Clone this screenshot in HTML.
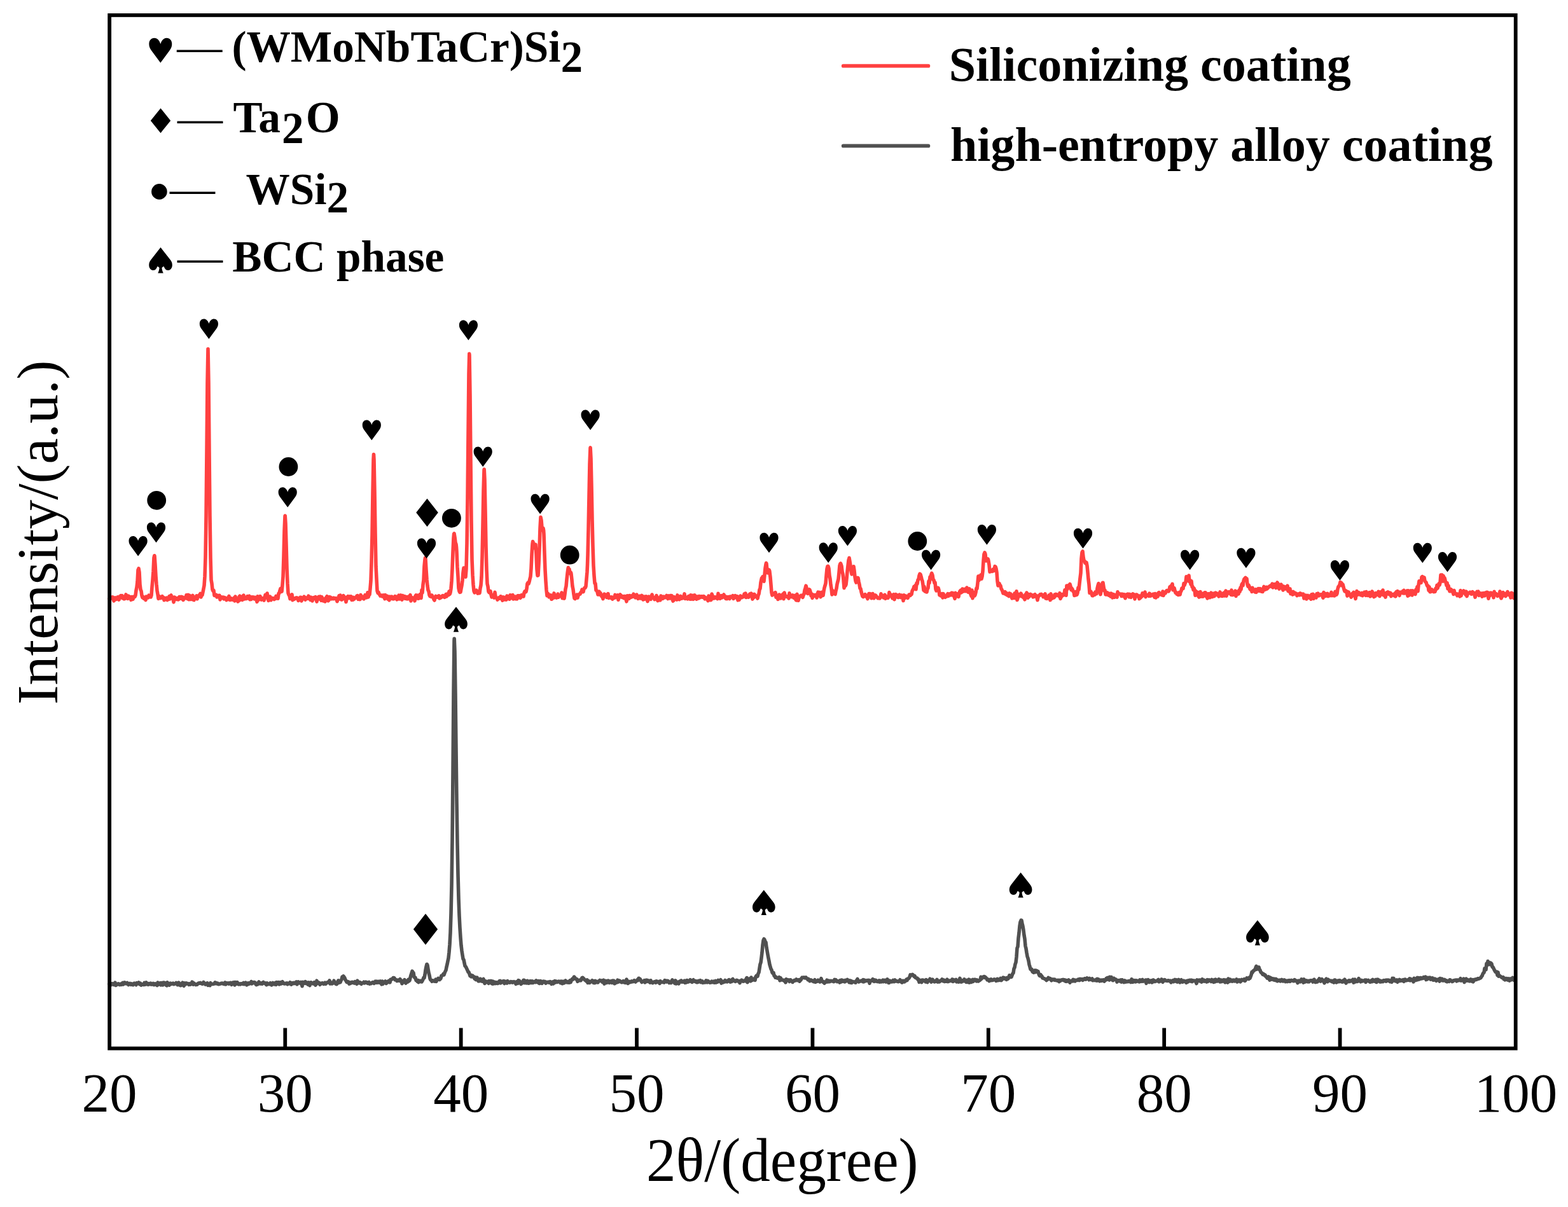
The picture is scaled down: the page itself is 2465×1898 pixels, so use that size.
<!DOCTYPE html>
<html><head><meta charset="utf-8"><title>XRD patterns</title>
<style>
html,body{margin:0;padding:0;background:#fff;}
svg{display:block;}
text{font-family:'Liberation Serif', 'Times New Roman', serif;fill:#000;}
</style></head>
<body>
<svg width="2465" height="1898" viewBox="0 0 2465 1898">
<rect x="0" y="0" width="2465" height="1898" fill="#fff"/>
<g fill="none" stroke-linejoin="round" stroke-linecap="round" stroke-width="5.6">
<path stroke="#505050" d="M172.0,1547.5 L173.0,1549.3 L174.0,1549.1 L175.0,1546.8 L176.0,1547.1 L177.0,1546.8 L178.0,1548.2 L179.0,1547.4 L180.0,1548.4 L181.0,1545.1 L182.0,1549.5 L183.0,1547.3 L184.0,1548.3 L185.0,1547.3 L186.0,1546.9 L187.0,1548.0 L188.0,1548.5 L189.0,1547.2 L190.0,1547.2 L191.0,1548.3 L192.0,1546.3 L193.0,1545.4 L194.0,1547.9 L195.0,1546.5 L196.0,1544.9 L197.0,1546.3 L198.0,1546.8 L199.0,1545.8 L200.0,1545.4 L201.0,1547.4 L202.0,1548.5 L203.0,1547.1 L204.0,1546.4 L205.0,1547.9 L206.0,1548.3 L207.0,1547.0 L208.0,1548.1 L209.0,1548.7 L210.0,1547.1 L211.0,1546.3 L212.0,1547.8 L213.0,1547.6 L214.0,1548.7 L215.0,1545.6 L216.0,1546.4 L217.0,1546.2 L218.0,1545.0 L219.0,1547.5 L220.0,1548.0 L221.0,1546.3 L222.0,1549.1 L223.0,1548.3 L224.0,1548.1 L225.0,1547.8 L226.0,1548.5 L227.0,1545.5 L228.0,1548.1 L229.0,1548.0 L230.0,1544.9 L231.0,1547.7 L232.0,1546.9 L233.0,1548.2 L234.0,1546.7 L235.0,1547.2 L236.0,1547.7 L237.0,1546.1 L238.0,1548.0 L239.0,1547.1 L240.0,1547.8 L241.0,1546.5 L242.0,1548.6 L243.0,1548.0 L244.0,1547.0 L245.0,1548.0 L246.0,1548.8 L247.0,1549.5 L248.0,1545.1 L249.0,1548.3 L250.0,1547.8 L251.0,1547.0 L252.0,1545.8 L253.0,1548.8 L254.0,1545.5 L255.0,1547.9 L256.0,1548.8 L257.0,1545.0 L258.0,1546.7 L259.0,1545.4 L260.0,1547.4 L261.0,1549.1 L262.0,1549.7 L263.0,1544.8 L264.0,1546.3 L265.0,1548.0 L266.0,1549.1 L267.0,1547.6 L268.0,1546.1 L269.0,1547.5 L270.0,1547.0 L271.0,1546.8 L272.0,1546.1 L273.0,1547.6 L274.0,1547.5 L275.0,1546.9 L276.0,1546.8 L277.0,1545.4 L278.0,1546.4 L279.0,1548.6 L280.0,1546.8 L281.0,1545.2 L282.0,1548.8 L283.0,1547.7 L284.0,1549.7 L285.0,1547.1 L286.0,1546.4 L287.0,1545.1 L288.0,1548.7 L289.0,1550.3 L290.0,1545.9 L291.0,1546.1 L292.0,1547.7 L293.0,1545.9 L294.0,1546.6 L295.0,1546.5 L296.0,1547.2 L297.0,1548.4 L298.0,1547.0 L299.0,1548.1 L300.0,1546.4 L301.0,1547.4 L302.0,1544.2 L303.0,1545.0 L304.0,1548.0 L305.0,1546.1 L306.0,1547.7 L307.0,1547.6 L308.0,1548.6 L309.0,1548.0 L310.0,1548.2 L311.0,1546.7 L312.0,1546.0 L313.0,1545.9 L314.0,1546.2 L315.0,1545.4 L316.0,1546.2 L317.0,1546.7 L318.0,1547.2 L319.0,1546.4 L320.0,1544.4 L321.0,1546.8 L322.0,1547.1 L323.0,1548.2 L324.0,1547.6 L325.0,1546.0 L326.0,1545.9 L327.0,1549.4 L328.0,1547.8 L329.0,1549.2 L330.0,1549.6 L331.0,1545.7 L332.0,1547.3 L333.0,1547.4 L334.0,1547.5 L335.0,1547.5 L336.0,1547.0 L337.0,1547.0 L338.0,1544.8 L339.0,1546.6 L340.0,1545.8 L341.0,1546.9 L342.0,1546.1 L343.0,1547.6 L344.0,1547.8 L345.0,1547.1 L346.0,1547.1 L347.0,1546.9 L348.0,1546.1 L349.0,1546.5 L350.0,1546.1 L351.0,1547.2 L352.0,1546.7 L353.0,1547.5 L354.0,1545.0 L355.0,1547.9 L356.0,1545.7 L357.0,1545.7 L358.0,1546.4 L359.0,1545.9 L360.0,1547.1 L361.0,1545.9 L362.0,1545.3 L363.0,1545.6 L364.0,1548.4 L365.0,1546.7 L366.0,1545.1 L367.0,1546.7 L368.0,1544.6 L369.0,1549.0 L370.0,1544.6 L371.0,1547.2 L372.0,1547.3 L373.0,1544.7 L374.0,1547.0 L375.0,1547.9 L376.0,1547.2 L377.0,1546.9 L378.0,1547.8 L379.0,1546.8 L380.0,1547.0 L381.0,1546.4 L382.0,1547.4 L383.0,1545.4 L384.0,1547.6 L385.0,1545.9 L386.0,1545.1 L387.0,1547.0 L388.0,1548.8 L389.0,1547.8 L390.0,1545.9 L391.0,1547.4 L392.0,1545.9 L393.0,1546.4 L394.0,1546.6 L395.0,1543.5 L396.0,1546.8 L397.0,1545.2 L398.0,1545.6 L399.0,1544.6 L400.0,1544.5 L401.0,1545.3 L402.0,1547.6 L403.0,1548.6 L404.0,1546.4 L405.0,1547.9 L406.0,1546.1 L407.0,1544.0 L408.0,1546.6 L409.0,1547.0 L410.0,1545.9 L411.0,1546.8 L412.0,1547.2 L413.0,1545.3 L414.0,1544.5 L415.0,1546.1 L416.0,1546.1 L417.0,1545.9 L418.0,1547.7 L419.0,1548.6 L420.0,1545.8 L421.0,1547.3 L422.0,1547.6 L423.0,1547.3 L424.0,1547.7 L425.0,1545.8 L426.0,1547.3 L427.0,1548.9 L428.0,1547.4 L429.0,1545.5 L430.0,1547.1 L431.0,1547.9 L432.0,1546.8 L433.0,1545.5 L434.0,1548.3 L435.0,1544.6 L436.0,1546.9 L437.0,1546.2 L438.0,1544.7 L439.0,1547.8 L440.0,1546.7 L441.0,1544.7 L442.0,1547.0 L443.0,1545.6 L444.0,1543.7 L445.0,1545.3 L446.0,1546.5 L447.0,1547.0 L448.0,1546.4 L449.0,1546.2 L450.0,1546.8 L451.0,1545.9 L452.0,1547.7 L453.0,1546.3 L454.0,1546.5 L455.0,1546.8 L456.0,1544.7 L457.0,1545.2 L458.0,1548.1 L459.0,1546.5 L460.0,1545.7 L461.0,1546.5 L462.0,1545.4 L463.0,1546.4 L464.0,1545.2 L465.0,1546.4 L466.0,1544.0 L467.0,1547.8 L468.0,1545.4 L469.0,1544.0 L470.0,1545.7 L471.0,1545.5 L472.0,1546.2 L473.0,1544.5 L474.0,1546.5 L475.0,1550.7 L476.0,1544.3 L477.0,1546.4 L478.0,1545.6 L479.0,1546.2 L480.0,1543.6 L481.0,1544.4 L482.0,1546.5 L483.0,1545.9 L484.0,1548.0 L485.0,1545.0 L486.0,1546.1 L487.0,1549.7 L488.0,1544.9 L489.0,1544.7 L490.0,1545.8 L491.0,1545.8 L492.0,1546.9 L493.0,1546.0 L494.0,1544.8 L495.0,1546.1 L496.0,1549.2 L497.0,1547.5 L498.0,1542.2 L499.0,1545.6 L500.0,1544.6 L501.0,1546.6 L502.0,1545.5 L503.0,1548.3 L504.0,1547.0 L505.0,1546.9 L506.0,1546.0 L507.0,1545.7 L508.0,1546.2 L509.0,1547.4 L510.0,1546.4 L511.0,1545.2 L512.0,1547.3 L513.0,1545.9 L514.0,1545.5 L515.0,1544.6 L516.0,1544.9 L517.0,1544.8 L518.0,1541.9 L519.0,1546.9 L520.0,1546.3 L521.0,1545.2 L522.0,1546.9 L523.0,1546.0 L524.0,1545.9 L525.0,1542.2 L526.0,1545.1 L527.0,1546.0 L528.0,1547.3 L529.0,1547.6 L530.0,1546.9 L531.0,1543.4 L532.0,1541.9 L533.0,1545.2 L534.0,1544.0 L535.0,1544.5 L536.0,1541.7 L537.0,1540.4 L538.0,1536.0 L539.0,1536.1 L539.9,1534.9 L540.0,1535.1 L541.0,1536.5 L542.0,1538.1 L543.0,1540.9 L544.0,1542.1 L545.0,1544.3 L546.0,1544.7 L547.0,1543.7 L548.0,1543.9 L549.0,1547.1 L550.0,1544.8 L551.0,1546.3 L552.0,1545.6 L553.0,1544.4 L554.0,1544.2 L555.0,1545.4 L556.0,1545.5 L557.0,1546.0 L558.0,1543.6 L559.0,1544.5 L560.0,1545.1 L561.0,1547.3 L562.0,1542.2 L563.0,1545.8 L564.0,1544.6 L565.0,1545.8 L566.0,1544.6 L567.0,1545.7 L568.0,1547.3 L569.0,1545.7 L570.0,1545.8 L571.0,1545.7 L572.0,1544.3 L573.0,1545.9 L574.0,1545.0 L575.0,1544.2 L576.0,1545.2 L577.0,1544.9 L578.0,1546.2 L579.0,1545.2 L580.0,1544.5 L581.0,1547.1 L582.0,1546.5 L583.0,1546.8 L584.0,1546.0 L585.0,1545.0 L586.0,1544.6 L587.0,1544.8 L588.0,1546.4 L589.0,1545.3 L590.0,1543.2 L591.0,1545.1 L592.0,1543.3 L593.0,1545.3 L594.0,1543.5 L595.0,1543.4 L596.0,1545.2 L597.0,1544.9 L598.0,1542.9 L599.0,1546.0 L600.0,1547.8 L601.0,1543.0 L602.0,1547.3 L603.0,1544.0 L604.0,1544.3 L605.0,1544.6 L606.0,1543.0 L607.0,1546.5 L608.0,1545.4 L609.0,1543.7 L610.0,1544.3 L611.0,1542.5 L612.0,1543.7 L613.0,1544.8 L614.0,1540.4 L615.0,1540.7 L616.0,1539.8 L617.0,1539.0 L618.0,1537.8 L619.0,1537.5 L620.0,1538.0 L621.0,1540.7 L622.0,1540.4 L623.0,1540.8 L624.0,1542.6 L625.0,1542.3 L626.0,1541.1 L627.0,1541.1 L628.0,1542.4 L629.0,1539.7 L630.0,1542.7 L631.0,1541.9 L632.0,1546.7 L633.0,1544.8 L634.0,1544.2 L635.0,1543.8 L636.0,1540.7 L637.0,1544.9 L638.0,1546.0 L639.0,1542.7 L640.0,1544.3 L641.0,1544.0 L642.0,1540.4 L643.0,1542.6 L644.0,1541.5 L645.0,1537.4 L646.0,1533.5 L647.0,1530.8 L648.0,1527.2 L648.3,1527.5 L649.0,1528.9 L650.0,1529.8 L651.0,1536.3 L652.0,1537.5 L653.0,1537.4 L654.0,1541.4 L655.0,1541.1 L656.0,1543.2 L657.0,1541.5 L658.0,1544.5 L659.0,1542.2 L660.0,1543.6 L661.0,1542.2 L662.0,1542.3 L663.0,1543.9 L664.0,1542.1 L665.0,1540.2 L666.0,1537.3 L667.0,1537.6 L668.0,1532.6 L669.0,1525.4 L670.0,1520.2 L671.0,1516.3 L671.2,1516.3 L672.0,1517.6 L673.0,1523.9 L674.0,1529.8 L675.0,1533.4 L676.0,1538.8 L677.0,1541.0 L678.0,1541.4 L679.0,1543.2 L680.0,1541.8 L681.0,1542.1 L682.0,1542.9 L683.0,1542.2 L684.0,1543.1 L685.0,1540.1 L686.0,1543.3 L687.0,1540.0 L688.0,1540.4 L689.0,1538.3 L690.0,1540.3 L691.0,1540.6 L692.0,1539.6 L693.0,1538.4 L694.0,1534.2 L695.0,1534.2 L696.0,1533.5 L697.0,1531.5 L698.0,1532.9 L699.0,1529.9 L700.0,1527.5 L701.0,1525.7 L702.0,1520.5 L703.0,1516.5 L704.0,1511.4 L705.0,1506.8 L706.0,1497.5 L707.0,1485.2 L708.0,1466.9 L709.0,1436.7 L710.0,1392.2 L711.0,1322.0 L712.0,1217.9 L713.0,1091.3 L714.0,1007.2 L714.2,1004.3 L715.0,1024.6 L716.0,1093.4 L717.0,1180.0 L718.0,1260.7 L719.0,1325.6 L720.0,1375.6 L721.0,1412.9 L722.0,1439.5 L723.0,1459.0 L724.0,1474.4 L725.0,1486.7 L726.0,1495.2 L727.0,1501.6 L728.0,1507.8 L729.0,1509.1 L730.0,1514.1 L731.0,1518.8 L732.0,1519.9 L733.0,1521.7 L734.0,1523.9 L735.0,1526.0 L736.0,1528.5 L737.0,1528.7 L738.0,1531.6 L739.0,1534.6 L740.0,1533.1 L741.0,1535.9 L742.0,1535.4 L743.0,1534.2 L744.0,1536.1 L745.0,1535.8 L746.0,1538.8 L747.0,1536.7 L748.0,1540.6 L749.0,1540.1 L750.0,1537.1 L751.0,1541.3 L752.0,1542.7 L753.0,1540.0 L754.0,1542.7 L755.0,1539.3 L756.0,1542.3 L757.0,1540.1 L758.0,1543.2 L759.0,1540.4 L760.0,1539.5 L761.0,1543.7 L762.0,1546.4 L763.0,1542.7 L764.0,1544.8 L765.0,1544.0 L766.0,1543.5 L767.0,1544.8 L768.0,1546.3 L769.0,1542.6 L770.0,1545.0 L771.0,1544.8 L772.0,1542.5 L773.0,1546.5 L774.0,1547.0 L775.0,1543.2 L776.0,1546.8 L777.0,1544.6 L778.0,1544.3 L779.0,1546.5 L780.0,1544.8 L781.0,1544.9 L782.0,1546.5 L783.0,1546.2 L784.0,1545.6 L785.0,1542.7 L786.0,1542.4 L787.0,1545.9 L788.0,1543.3 L789.0,1544.7 L790.0,1543.1 L791.0,1544.2 L792.0,1542.8 L793.0,1546.6 L794.0,1543.1 L795.0,1544.3 L796.0,1544.2 L797.0,1546.0 L798.0,1542.6 L799.0,1544.4 L800.0,1544.2 L801.0,1545.1 L802.0,1545.0 L803.0,1543.8 L804.0,1544.7 L805.0,1543.9 L806.0,1545.0 L807.0,1544.3 L808.0,1543.6 L809.0,1544.4 L810.0,1544.9 L811.0,1547.3 L812.0,1543.8 L813.0,1544.8 L814.0,1546.3 L815.0,1541.7 L816.0,1542.1 L817.0,1542.8 L818.0,1544.2 L819.0,1547.5 L820.0,1544.9 L821.0,1545.9 L822.0,1544.1 L823.0,1541.2 L824.0,1541.3 L825.0,1545.7 L826.0,1544.6 L827.0,1542.7 L828.0,1545.8 L829.0,1542.3 L830.0,1545.8 L831.0,1546.2 L832.0,1543.3 L833.0,1542.9 L834.0,1545.4 L835.0,1542.9 L836.0,1545.4 L837.0,1542.8 L838.0,1545.4 L839.0,1544.4 L840.0,1543.7 L841.0,1543.1 L842.0,1544.6 L843.0,1541.8 L844.0,1543.9 L845.0,1543.8 L846.0,1545.2 L847.0,1542.6 L848.0,1546.5 L849.0,1543.9 L850.0,1542.8 L851.0,1546.1 L852.0,1546.4 L853.0,1544.0 L854.0,1543.1 L855.0,1544.3 L856.0,1543.3 L857.0,1543.8 L858.0,1546.2 L859.0,1544.7 L860.0,1544.4 L861.0,1544.7 L862.0,1544.1 L863.0,1545.3 L864.0,1545.3 L865.0,1543.7 L866.0,1544.3 L867.0,1547.3 L868.0,1544.7 L869.0,1543.9 L870.0,1546.8 L871.0,1544.2 L872.0,1542.7 L873.0,1545.0 L874.0,1543.0 L875.0,1543.5 L876.0,1544.5 L877.0,1543.9 L878.0,1543.1 L879.0,1543.4 L880.0,1543.3 L881.0,1545.6 L882.0,1543.1 L883.0,1543.3 L884.0,1546.7 L885.0,1543.3 L886.0,1545.9 L887.0,1545.7 L888.0,1543.7 L889.0,1542.0 L890.0,1544.4 L891.0,1544.7 L892.0,1545.0 L893.0,1543.8 L894.0,1545.1 L895.0,1545.2 L896.0,1541.8 L897.0,1544.6 L898.0,1542.3 L899.0,1540.2 L900.0,1539.1 L901.0,1540.0 L902.0,1537.1 L902.5,1536.1 L903.0,1536.7 L904.0,1537.7 L905.0,1539.1 L906.0,1540.1 L907.0,1539.8 L908.0,1543.4 L909.0,1541.3 L910.0,1542.1 L911.0,1541.5 L912.0,1540.8 L913.0,1541.8 L914.0,1540.0 L915.0,1537.6 L916.0,1537.3 L916.2,1537.4 L917.0,1538.5 L918.0,1539.3 L919.0,1540.8 L920.0,1541.2 L921.0,1542.1 L922.0,1543.2 L923.0,1540.8 L924.0,1545.5 L925.0,1542.5 L926.0,1542.9 L927.0,1545.4 L928.0,1544.0 L929.0,1543.8 L930.0,1543.0 L931.0,1541.8 L932.0,1544.1 L933.0,1545.4 L934.0,1542.7 L935.0,1545.6 L936.0,1542.4 L937.0,1542.9 L938.0,1544.5 L939.0,1543.9 L940.0,1544.8 L941.0,1542.9 L942.0,1542.6 L943.0,1541.5 L944.0,1542.3 L945.0,1542.5 L946.0,1542.0 L947.0,1544.3 L948.0,1543.0 L949.0,1541.3 L950.0,1547.1 L951.0,1542.8 L952.0,1542.3 L953.0,1545.5 L954.0,1545.4 L955.0,1542.4 L956.0,1542.0 L957.0,1542.6 L958.0,1545.4 L959.0,1543.5 L960.0,1542.8 L961.0,1543.8 L962.0,1545.4 L963.0,1542.1 L964.0,1543.4 L965.0,1542.1 L966.0,1546.7 L967.0,1546.2 L968.0,1545.1 L969.0,1543.7 L970.0,1544.7 L971.0,1541.1 L972.0,1544.2 L973.0,1542.1 L974.0,1542.1 L975.0,1542.9 L976.0,1543.4 L977.0,1544.6 L978.0,1544.7 L979.0,1544.1 L980.0,1542.6 L981.0,1544.7 L982.0,1543.6 L983.0,1545.3 L984.0,1542.6 L985.0,1540.2 L986.0,1543.1 L987.0,1546.5 L988.0,1544.3 L989.0,1543.4 L990.0,1544.8 L991.0,1544.3 L992.0,1544.2 L993.0,1542.9 L994.0,1543.6 L995.0,1543.8 L996.0,1542.6 L997.0,1541.8 L998.0,1543.3 L999.0,1544.0 L1000.0,1543.0 L1001.0,1542.0 L1002.0,1540.8 L1003.0,1541.6 L1004.0,1538.2 L1004.4,1538.2 L1005.0,1539.1 L1006.0,1539.2 L1007.0,1540.8 L1008.0,1542.9 L1009.0,1544.5 L1010.0,1543.2 L1011.0,1543.6 L1012.0,1543.4 L1013.0,1541.8 L1014.0,1544.9 L1015.0,1543.2 L1016.0,1541.3 L1017.0,1543.4 L1018.0,1541.4 L1019.0,1542.3 L1020.0,1543.7 L1021.0,1542.5 L1022.0,1545.1 L1023.0,1541.8 L1024.0,1544.0 L1025.0,1544.4 L1026.0,1545.6 L1027.0,1544.9 L1028.0,1544.0 L1029.0,1543.8 L1030.0,1543.6 L1031.0,1545.2 L1032.0,1542.8 L1033.0,1544.4 L1034.0,1543.6 L1035.0,1544.0 L1036.0,1543.4 L1037.0,1546.5 L1038.0,1542.8 L1039.0,1544.0 L1040.0,1544.1 L1041.0,1544.5 L1042.0,1544.3 L1043.0,1544.3 L1044.0,1545.0 L1045.0,1541.7 L1046.0,1543.7 L1047.0,1542.1 L1048.0,1544.0 L1049.0,1542.2 L1050.0,1542.4 L1051.0,1543.6 L1052.0,1545.5 L1053.0,1544.4 L1054.0,1544.1 L1055.0,1545.5 L1056.0,1542.4 L1057.0,1541.0 L1058.0,1543.1 L1059.0,1543.3 L1060.0,1545.3 L1061.0,1546.4 L1062.0,1541.9 L1063.0,1546.9 L1064.0,1545.7 L1065.0,1544.7 L1066.0,1544.1 L1067.0,1546.8 L1068.0,1543.8 L1069.0,1543.0 L1070.0,1543.8 L1071.0,1541.9 L1072.0,1544.2 L1073.0,1543.5 L1074.0,1544.1 L1075.0,1544.1 L1076.0,1542.2 L1077.0,1545.3 L1078.0,1542.3 L1079.0,1544.8 L1080.0,1541.5 L1081.0,1544.1 L1082.0,1542.5 L1083.0,1543.7 L1084.0,1542.7 L1085.0,1540.8 L1086.0,1542.1 L1087.0,1543.7 L1088.0,1544.4 L1089.0,1541.7 L1090.0,1540.8 L1091.0,1542.4 L1092.0,1543.3 L1093.0,1542.7 L1094.0,1542.5 L1095.0,1544.7 L1096.0,1544.8 L1097.0,1544.5 L1098.0,1542.3 L1099.0,1543.6 L1100.0,1543.3 L1101.0,1541.7 L1102.0,1544.7 L1103.0,1543.6 L1104.0,1542.9 L1105.0,1545.3 L1106.0,1544.5 L1107.0,1544.6 L1108.0,1545.0 L1109.0,1544.4 L1110.0,1541.8 L1111.0,1543.0 L1112.0,1544.8 L1113.0,1542.5 L1114.0,1543.5 L1115.0,1544.0 L1116.0,1545.3 L1117.0,1545.1 L1118.0,1544.6 L1119.0,1543.2 L1120.0,1544.6 L1121.0,1544.1 L1122.0,1543.2 L1123.0,1545.2 L1124.0,1544.0 L1125.0,1542.4 L1126.0,1545.0 L1127.0,1543.0 L1128.0,1544.1 L1129.0,1541.4 L1130.0,1543.3 L1131.0,1542.1 L1132.0,1542.0 L1133.0,1540.8 L1134.0,1546.1 L1135.0,1543.1 L1136.0,1543.6 L1137.0,1544.7 L1138.0,1543.1 L1139.0,1543.9 L1140.0,1541.5 L1141.0,1543.5 L1142.0,1542.7 L1143.0,1543.8 L1144.0,1543.4 L1145.0,1541.3 L1146.0,1540.7 L1147.0,1541.8 L1148.0,1544.1 L1149.0,1543.6 L1150.0,1543.6 L1151.0,1540.4 L1152.0,1539.5 L1153.0,1542.2 L1154.0,1542.5 L1155.0,1542.2 L1156.0,1543.4 L1157.0,1542.7 L1158.0,1541.3 L1159.0,1541.7 L1160.0,1543.0 L1161.0,1542.9 L1162.0,1542.6 L1163.0,1545.6 L1164.0,1542.3 L1165.0,1542.8 L1166.0,1541.2 L1167.0,1542.0 L1168.0,1543.1 L1169.0,1543.1 L1170.0,1542.1 L1171.0,1542.7 L1172.0,1542.2 L1173.0,1539.6 L1174.0,1537.6 L1175.0,1544.8 L1176.0,1542.8 L1177.0,1541.5 L1178.0,1539.1 L1179.0,1539.5 L1180.0,1542.8 L1181.0,1537.1 L1182.0,1540.0 L1183.0,1541.3 L1184.0,1540.0 L1185.0,1540.3 L1186.0,1538.6 L1187.0,1541.4 L1188.0,1536.0 L1189.0,1534.5 L1190.0,1535.4 L1191.0,1535.2 L1192.0,1530.8 L1193.0,1529.1 L1194.0,1522.7 L1195.0,1516.4 L1196.0,1513.6 L1197.0,1506.2 L1198.0,1497.7 L1199.0,1486.1 L1200.0,1478.8 L1201.0,1476.5 L1201.2,1476.7 L1202.0,1477.8 L1203.0,1480.7 L1204.0,1481.9 L1205.0,1489.8 L1206.0,1495.2 L1207.0,1501.1 L1208.0,1506.4 L1209.0,1511.2 L1210.0,1516.9 L1211.0,1520.2 L1212.0,1523.7 L1213.0,1525.3 L1214.0,1529.3 L1215.0,1530.6 L1216.0,1529.6 L1217.0,1534.5 L1218.0,1534.6 L1219.0,1537.1 L1220.0,1536.4 L1221.0,1537.2 L1222.0,1538.1 L1223.0,1538.3 L1224.0,1538.1 L1225.0,1536.7 L1226.0,1541.8 L1227.0,1537.6 L1228.0,1539.4 L1229.0,1541.0 L1230.0,1540.8 L1231.0,1541.2 L1232.0,1541.7 L1233.0,1542.5 L1234.0,1541.3 L1235.0,1544.9 L1236.0,1539.8 L1237.0,1541.6 L1238.0,1540.9 L1239.0,1540.7 L1240.0,1541.9 L1241.0,1543.5 L1242.0,1540.7 L1243.0,1540.7 L1244.0,1542.7 L1245.0,1542.5 L1246.0,1544.4 L1247.0,1543.2 L1248.0,1542.1 L1249.0,1541.4 L1250.0,1542.1 L1251.0,1541.6 L1252.0,1540.0 L1253.0,1541.7 L1254.0,1541.4 L1255.0,1541.1 L1256.0,1540.6 L1257.0,1543.1 L1258.0,1541.3 L1259.0,1541.1 L1260.0,1538.4 L1261.0,1537.1 L1262.0,1537.4 L1263.0,1537.5 L1264.0,1536.9 L1264.2,1537.0 L1265.0,1537.7 L1266.0,1538.0 L1267.0,1537.0 L1268.0,1538.5 L1269.0,1538.9 L1270.0,1540.6 L1271.0,1539.4 L1272.0,1541.1 L1273.0,1542.6 L1274.0,1541.9 L1275.0,1540.9 L1276.0,1541.4 L1277.0,1542.5 L1278.0,1543.0 L1279.0,1543.6 L1280.0,1542.3 L1281.0,1540.8 L1282.0,1544.4 L1283.0,1543.0 L1284.0,1543.2 L1285.0,1543.1 L1286.0,1541.3 L1287.0,1542.3 L1288.0,1543.1 L1289.0,1544.1 L1290.0,1542.8 L1291.0,1538.7 L1292.0,1542.5 L1293.0,1543.3 L1294.0,1544.5 L1295.0,1543.8 L1296.0,1546.1 L1297.0,1544.7 L1298.0,1544.6 L1299.0,1544.1 L1300.0,1541.1 L1301.0,1544.0 L1302.0,1543.7 L1303.0,1542.2 L1304.0,1543.7 L1305.0,1543.4 L1306.0,1542.3 L1307.0,1542.7 L1308.0,1542.6 L1309.0,1543.2 L1310.0,1542.4 L1311.0,1543.6 L1312.0,1540.4 L1313.0,1542.6 L1314.0,1540.7 L1315.0,1542.3 L1316.0,1543.6 L1317.0,1543.0 L1318.0,1542.8 L1319.0,1543.0 L1320.0,1545.0 L1321.0,1541.5 L1322.0,1544.1 L1323.0,1541.0 L1324.0,1542.3 L1325.0,1543.2 L1326.0,1541.9 L1327.0,1543.2 L1328.0,1543.9 L1329.0,1541.4 L1330.0,1542.9 L1331.0,1542.5 L1332.0,1540.4 L1333.0,1542.7 L1334.0,1541.9 L1335.0,1544.7 L1336.0,1541.8 L1337.0,1545.2 L1338.0,1542.3 L1339.0,1545.5 L1340.0,1543.7 L1341.0,1543.6 L1342.0,1544.0 L1343.0,1544.1 L1344.0,1544.8 L1345.0,1545.2 L1346.0,1542.5 L1347.0,1541.3 L1348.0,1539.5 L1349.0,1542.5 L1350.0,1544.0 L1351.0,1543.5 L1352.0,1543.1 L1353.0,1542.5 L1354.0,1542.1 L1355.0,1542.6 L1356.0,1543.5 L1357.0,1540.7 L1358.0,1543.9 L1359.0,1541.1 L1360.0,1542.8 L1361.0,1542.1 L1362.0,1542.5 L1363.0,1541.6 L1364.0,1541.5 L1365.0,1542.7 L1366.0,1541.5 L1367.0,1546.2 L1368.0,1542.4 L1369.0,1542.1 L1370.0,1542.2 L1371.0,1541.5 L1372.0,1539.7 L1373.0,1542.6 L1374.0,1543.3 L1375.0,1541.0 L1376.0,1542.9 L1377.0,1541.4 L1378.0,1542.9 L1379.0,1543.4 L1380.0,1543.6 L1381.0,1543.5 L1382.0,1542.0 L1383.0,1544.1 L1384.0,1542.3 L1385.0,1543.4 L1386.0,1543.8 L1387.0,1542.5 L1388.0,1541.2 L1389.0,1543.7 L1390.0,1541.4 L1391.0,1541.7 L1392.0,1541.4 L1393.0,1544.0 L1394.0,1542.7 L1395.0,1539.9 L1396.0,1543.8 L1397.0,1545.5 L1398.0,1545.2 L1399.0,1542.1 L1400.0,1542.9 L1401.0,1543.5 L1402.0,1544.0 L1403.0,1542.8 L1404.0,1541.4 L1405.0,1543.7 L1406.0,1543.6 L1407.0,1541.0 L1408.0,1542.2 L1409.0,1543.0 L1410.0,1542.7 L1411.0,1543.3 L1412.0,1543.7 L1413.0,1543.3 L1414.0,1542.4 L1415.0,1540.8 L1416.0,1543.3 L1417.0,1544.3 L1418.0,1545.0 L1419.0,1542.3 L1420.0,1542.2 L1421.0,1544.0 L1422.0,1543.9 L1423.0,1542.2 L1424.0,1542.5 L1425.0,1540.2 L1426.0,1541.5 L1427.0,1539.0 L1428.0,1539.1 L1429.0,1538.1 L1430.0,1536.4 L1431.0,1532.9 L1432.0,1533.3 L1433.0,1533.6 L1434.0,1532.6 L1434.5,1532.4 L1435.0,1532.8 L1436.0,1534.0 L1437.0,1535.5 L1438.0,1534.6 L1439.0,1537.1 L1440.0,1537.8 L1441.0,1538.1 L1442.0,1538.1 L1443.0,1540.5 L1444.0,1540.0 L1445.0,1544.3 L1446.0,1541.6 L1447.0,1541.6 L1448.0,1541.5 L1449.0,1544.6 L1450.0,1541.0 L1451.0,1542.1 L1452.0,1541.3 L1453.0,1542.2 L1454.0,1542.4 L1455.0,1543.9 L1456.0,1540.6 L1457.0,1542.5 L1458.0,1544.6 L1459.0,1541.9 L1460.0,1542.3 L1461.0,1541.4 L1462.0,1539.2 L1463.0,1542.4 L1464.0,1544.1 L1465.0,1542.0 L1466.0,1540.2 L1467.0,1542.9 L1468.0,1542.7 L1469.0,1543.9 L1470.0,1543.8 L1471.0,1542.3 L1472.0,1543.1 L1473.0,1540.3 L1474.0,1544.1 L1475.0,1542.9 L1476.0,1544.0 L1477.0,1544.0 L1478.0,1542.2 L1479.0,1542.4 L1480.0,1541.5 L1481.0,1539.9 L1482.0,1542.4 L1483.0,1542.8 L1484.0,1541.2 L1485.0,1543.5 L1486.0,1542.7 L1487.0,1543.2 L1488.0,1541.6 L1489.0,1540.3 L1490.0,1543.6 L1491.0,1543.4 L1492.0,1542.4 L1493.0,1542.0 L1494.0,1542.2 L1495.0,1542.4 L1496.0,1541.9 L1497.0,1539.9 L1498.0,1543.5 L1499.0,1540.6 L1500.0,1542.1 L1501.0,1542.1 L1502.0,1542.8 L1503.0,1540.4 L1504.0,1544.0 L1505.0,1543.3 L1506.0,1543.5 L1507.0,1544.1 L1508.0,1541.4 L1509.0,1538.4 L1510.0,1542.9 L1511.0,1544.1 L1512.0,1543.9 L1513.0,1541.7 L1514.0,1542.3 L1515.0,1542.8 L1516.0,1540.0 L1517.0,1541.5 L1518.0,1541.5 L1519.0,1544.4 L1520.0,1541.5 L1521.0,1544.3 L1522.0,1542.3 L1523.0,1540.1 L1524.0,1545.1 L1525.0,1540.9 L1526.0,1543.0 L1527.0,1544.4 L1528.0,1541.4 L1529.0,1540.5 L1530.0,1543.4 L1531.0,1542.1 L1532.0,1540.3 L1533.0,1540.4 L1534.0,1541.2 L1535.0,1542.8 L1536.0,1541.0 L1537.0,1542.0 L1538.0,1542.9 L1539.0,1542.0 L1540.0,1541.7 L1541.0,1540.8 L1542.0,1536.3 L1543.0,1539.3 L1544.0,1537.4 L1545.0,1536.5 L1545.6,1536.3 L1546.0,1536.0 L1547.0,1535.7 L1548.0,1537.4 L1549.0,1536.5 L1550.0,1537.7 L1551.0,1538.6 L1552.0,1540.8 L1553.0,1539.9 L1554.0,1540.5 L1555.0,1542.6 L1556.0,1540.6 L1557.0,1541.9 L1558.0,1539.8 L1559.0,1541.6 L1560.0,1541.4 L1561.0,1541.4 L1562.0,1540.6 L1563.0,1539.8 L1564.0,1540.7 L1565.0,1540.4 L1566.0,1542.4 L1567.0,1542.1 L1568.0,1539.3 L1569.0,1541.6 L1570.0,1540.1 L1571.0,1541.2 L1572.0,1539.8 L1573.0,1538.4 L1574.0,1541.6 L1575.0,1540.7 L1576.0,1538.3 L1577.0,1537.2 L1578.0,1538.8 L1579.0,1537.7 L1580.0,1538.5 L1581.0,1539.6 L1582.0,1540.4 L1583.0,1537.6 L1584.0,1539.5 L1585.0,1538.7 L1586.0,1536.0 L1587.0,1533.7 L1588.0,1536.4 L1589.0,1535.1 L1590.0,1536.4 L1591.0,1533.7 L1592.0,1531.1 L1593.0,1530.1 L1594.0,1523.3 L1595.0,1521.4 L1596.0,1516.1 L1597.0,1513.4 L1598.0,1504.8 L1599.0,1490.8 L1600.0,1488.6 L1601.0,1475.0 L1602.0,1466.9 L1603.0,1456.2 L1604.0,1450.0 L1605.0,1447.5 L1605.1,1447.1 L1606.0,1447.3 L1607.0,1452.3 L1608.0,1456.7 L1609.0,1462.8 L1610.0,1470.8 L1611.0,1476.5 L1612.0,1487.6 L1613.0,1491.7 L1614.0,1498.2 L1615.0,1503.8 L1616.0,1506.9 L1617.0,1510.9 L1618.0,1516.8 L1619.0,1520.1 L1620.0,1524.1 L1621.0,1524.9 L1622.0,1524.3 L1623.0,1527.7 L1624.0,1528.7 L1625.0,1529.3 L1626.0,1528.3 L1627.0,1525.8 L1628.0,1528.7 L1629.0,1526.1 L1630.0,1527.0 L1630.3,1526.7 L1631.0,1527.9 L1632.0,1527.7 L1633.0,1531.6 L1634.0,1534.0 L1635.0,1534.6 L1636.0,1532.8 L1637.0,1534.2 L1638.0,1535.2 L1639.0,1538.0 L1640.0,1538.1 L1641.0,1538.4 L1642.0,1538.9 L1643.0,1539.6 L1644.0,1540.0 L1645.0,1541.6 L1646.0,1539.4 L1647.0,1540.0 L1648.0,1537.4 L1649.0,1538.3 L1650.0,1539.2 L1651.0,1538.7 L1652.0,1540.7 L1653.0,1541.8 L1654.0,1540.0 L1655.0,1540.0 L1656.0,1540.1 L1657.0,1541.0 L1658.0,1540.2 L1659.0,1541.5 L1660.0,1541.4 L1661.0,1541.5 L1662.0,1542.1 L1663.0,1541.2 L1664.0,1541.4 L1665.0,1543.6 L1666.0,1541.3 L1667.0,1542.4 L1668.0,1541.5 L1669.0,1540.8 L1670.0,1540.9 L1671.0,1540.4 L1672.0,1541.6 L1673.0,1540.8 L1674.0,1541.0 L1675.0,1543.2 L1676.0,1541.5 L1677.0,1543.2 L1678.0,1542.0 L1679.0,1542.8 L1680.0,1540.9 L1681.0,1541.9 L1682.0,1545.2 L1683.0,1542.9 L1684.0,1543.1 L1685.0,1542.1 L1686.0,1542.9 L1687.0,1540.3 L1688.0,1540.7 L1689.0,1542.4 L1690.0,1542.9 L1691.0,1541.3 L1692.0,1541.6 L1693.0,1541.3 L1694.0,1541.5 L1695.0,1540.2 L1696.0,1539.8 L1697.0,1541.6 L1698.0,1539.3 L1699.0,1540.2 L1700.0,1540.5 L1701.0,1539.8 L1702.0,1541.3 L1703.0,1540.2 L1704.0,1540.3 L1705.0,1538.7 L1706.0,1538.7 L1707.0,1540.0 L1708.0,1539.4 L1709.0,1538.0 L1710.0,1539.0 L1710.4,1538.7 L1711.0,1538.7 L1712.0,1540.8 L1713.0,1538.5 L1714.0,1539.9 L1715.0,1540.4 L1716.0,1539.9 L1717.0,1539.0 L1718.0,1541.7 L1719.0,1541.4 L1720.0,1541.4 L1721.0,1541.5 L1722.0,1541.6 L1723.0,1540.5 L1724.0,1542.1 L1725.0,1539.4 L1726.0,1541.8 L1727.0,1539.9 L1728.0,1541.4 L1729.0,1542.8 L1730.0,1541.5 L1731.0,1541.1 L1732.0,1542.4 L1733.0,1541.3 L1734.0,1541.0 L1735.0,1540.8 L1736.0,1543.1 L1737.0,1541.8 L1738.0,1541.2 L1739.0,1538.7 L1740.0,1540.6 L1741.0,1537.7 L1742.0,1539.6 L1743.0,1537.2 L1744.0,1541.1 L1744.7,1536.2 L1745.0,1540.1 L1746.0,1539.6 L1747.0,1536.5 L1748.0,1539.0 L1749.0,1541.6 L1750.0,1541.6 L1751.0,1538.3 L1752.0,1540.2 L1753.0,1539.6 L1754.0,1540.1 L1755.0,1540.7 L1756.0,1544.1 L1757.0,1542.0 L1758.0,1541.7 L1759.0,1541.6 L1760.0,1542.9 L1761.0,1543.0 L1762.0,1541.0 L1763.0,1544.1 L1764.0,1540.8 L1765.0,1541.9 L1766.0,1542.8 L1767.0,1544.5 L1768.0,1541.8 L1769.0,1542.7 L1770.0,1544.0 L1771.0,1543.1 L1772.0,1543.8 L1773.0,1543.7 L1774.0,1542.7 L1775.0,1543.2 L1776.0,1543.6 L1777.0,1542.3 L1778.0,1544.5 L1779.0,1539.8 L1780.0,1541.2 L1781.0,1544.3 L1782.0,1543.0 L1783.0,1541.6 L1784.0,1542.9 L1785.0,1543.8 L1786.0,1541.7 L1787.0,1543.4 L1788.0,1542.3 L1789.0,1542.3 L1790.0,1542.3 L1791.0,1543.9 L1792.0,1541.0 L1793.0,1542.0 L1794.0,1543.3 L1795.0,1540.9 L1796.0,1540.4 L1797.0,1543.2 L1798.0,1542.5 L1799.0,1542.3 L1800.0,1542.7 L1801.0,1541.2 L1802.0,1546.3 L1803.0,1541.2 L1804.0,1541.9 L1805.0,1540.6 L1806.0,1541.9 L1807.0,1544.5 L1808.0,1542.5 L1809.0,1543.3 L1810.0,1541.9 L1811.0,1544.8 L1812.0,1542.7 L1813.0,1540.9 L1814.0,1543.5 L1815.0,1542.0 L1816.0,1543.3 L1817.0,1542.7 L1818.0,1542.8 L1819.0,1542.7 L1820.0,1541.3 L1821.0,1540.5 L1822.0,1543.8 L1823.0,1542.3 L1824.0,1542.9 L1825.0,1541.9 L1826.0,1539.9 L1827.0,1540.8 L1828.0,1544.3 L1829.0,1541.5 L1830.0,1542.0 L1831.0,1540.6 L1832.0,1541.8 L1833.0,1542.0 L1834.0,1542.2 L1835.0,1542.4 L1836.0,1541.7 L1837.0,1541.8 L1838.0,1542.5 L1839.0,1542.9 L1840.0,1542.3 L1841.0,1544.8 L1842.0,1542.8 L1843.0,1542.7 L1844.0,1541.6 L1845.0,1543.8 L1846.0,1541.2 L1847.0,1540.4 L1848.0,1541.2 L1849.0,1543.3 L1850.0,1541.0 L1851.0,1544.2 L1852.0,1542.5 L1853.0,1540.5 L1854.0,1542.2 L1855.0,1544.8 L1856.0,1541.4 L1857.0,1540.8 L1858.0,1543.2 L1859.0,1544.2 L1860.0,1543.8 L1861.0,1542.1 L1862.0,1542.7 L1863.0,1542.9 L1864.0,1544.0 L1865.0,1545.3 L1866.0,1542.3 L1867.0,1544.2 L1868.0,1542.0 L1869.0,1543.2 L1870.0,1541.3 L1871.0,1541.5 L1872.0,1543.0 L1873.0,1541.3 L1874.0,1543.6 L1875.0,1541.8 L1876.0,1542.6 L1877.0,1542.4 L1878.0,1542.0 L1879.0,1542.6 L1880.0,1543.9 L1881.0,1546.5 L1882.0,1540.9 L1883.0,1542.9 L1884.0,1542.2 L1885.0,1541.3 L1886.0,1542.8 L1887.0,1541.3 L1888.0,1542.4 L1889.0,1544.1 L1890.0,1539.8 L1891.0,1542.8 L1892.0,1543.0 L1893.0,1541.2 L1894.0,1543.1 L1895.0,1542.9 L1896.0,1542.0 L1897.0,1544.0 L1898.0,1540.7 L1899.0,1543.3 L1900.0,1542.1 L1901.0,1541.0 L1902.0,1542.2 L1903.0,1542.0 L1904.0,1543.5 L1905.0,1540.5 L1906.0,1542.2 L1907.0,1541.8 L1908.0,1544.4 L1909.0,1540.9 L1910.0,1543.8 L1911.0,1540.1 L1912.0,1542.8 L1913.0,1542.2 L1914.0,1542.9 L1915.0,1541.4 L1916.0,1539.8 L1917.0,1540.3 L1918.0,1544.0 L1919.0,1542.6 L1920.0,1541.2 L1921.0,1543.5 L1922.0,1541.3 L1923.0,1541.3 L1924.0,1540.7 L1925.0,1543.8 L1926.0,1544.8 L1927.0,1541.0 L1928.0,1542.6 L1929.0,1543.5 L1930.0,1545.0 L1931.0,1539.1 L1932.0,1542.4 L1933.0,1543.0 L1934.0,1540.2 L1935.0,1542.7 L1936.0,1542.4 L1937.0,1543.0 L1938.0,1541.3 L1939.0,1542.6 L1940.0,1541.2 L1941.0,1542.8 L1942.0,1542.2 L1943.0,1541.4 L1944.0,1540.0 L1945.0,1544.0 L1946.0,1543.2 L1947.0,1542.9 L1948.0,1540.8 L1949.0,1541.2 L1950.0,1543.8 L1951.0,1542.5 L1952.0,1540.3 L1953.0,1541.4 L1954.0,1541.4 L1955.0,1540.9 L1956.0,1539.7 L1957.0,1542.4 L1958.0,1541.4 L1959.0,1540.1 L1960.0,1537.9 L1961.0,1538.8 L1962.0,1539.1 L1963.0,1539.6 L1964.0,1537.2 L1965.0,1538.2 L1966.0,1535.7 L1967.0,1533.1 L1968.0,1528.7 L1969.0,1529.2 L1970.0,1526.8 L1971.0,1526.6 L1972.0,1525.3 L1973.0,1525.1 L1974.0,1521.7 L1975.0,1519.3 L1975.5,1524.3 L1976.0,1521.4 L1977.0,1520.9 L1978.0,1521.5 L1979.0,1520.9 L1980.0,1524.8 L1981.0,1525.7 L1982.0,1528.7 L1983.0,1529.4 L1984.0,1530.4 L1985.0,1532.2 L1986.0,1531.3 L1987.0,1532.2 L1988.0,1533.8 L1989.0,1533.2 L1990.0,1535.6 L1991.0,1536.1 L1992.0,1538.1 L1993.0,1537.8 L1994.0,1535.8 L1995.0,1538.8 L1996.0,1541.1 L1997.0,1537.1 L1998.0,1538.8 L1999.0,1540.1 L2000.0,1538.6 L2001.0,1539.8 L2002.0,1540.7 L2003.0,1539.1 L2004.0,1541.3 L2005.0,1541.6 L2006.0,1539.5 L2007.0,1541.2 L2008.0,1542.7 L2009.0,1541.1 L2010.0,1542.0 L2011.0,1542.3 L2012.0,1541.2 L2013.0,1542.9 L2014.0,1542.1 L2015.0,1540.4 L2016.0,1542.4 L2017.0,1542.9 L2018.0,1542.8 L2019.0,1541.0 L2020.0,1542.4 L2021.0,1543.6 L2022.0,1542.2 L2023.0,1543.4 L2024.0,1543.6 L2025.0,1541.9 L2026.0,1542.8 L2027.0,1541.6 L2028.0,1543.4 L2029.0,1541.9 L2030.0,1541.3 L2031.0,1542.0 L2032.0,1542.0 L2033.0,1542.6 L2034.0,1542.7 L2035.0,1540.6 L2036.0,1541.3 L2037.0,1542.6 L2038.0,1542.8 L2039.0,1542.3 L2040.0,1545.6 L2041.0,1543.6 L2042.0,1542.1 L2043.0,1543.1 L2044.0,1543.9 L2045.0,1542.7 L2046.0,1539.9 L2047.0,1542.3 L2048.0,1542.3 L2049.0,1545.0 L2050.0,1539.9 L2051.0,1544.3 L2052.0,1542.1 L2053.0,1543.5 L2054.0,1541.9 L2055.0,1542.5 L2056.0,1543.8 L2057.0,1542.4 L2058.0,1543.7 L2059.0,1542.2 L2060.0,1541.8 L2061.0,1542.0 L2062.0,1541.7 L2063.0,1542.2 L2064.0,1544.1 L2065.0,1540.8 L2066.0,1540.2 L2067.0,1542.3 L2068.0,1544.5 L2069.0,1543.7 L2070.0,1544.1 L2071.0,1544.0 L2072.0,1541.4 L2073.0,1542.5 L2074.0,1538.9 L2075.0,1541.5 L2076.0,1543.1 L2077.0,1540.3 L2078.0,1539.7 L2079.0,1540.7 L2080.0,1542.6 L2081.0,1543.9 L2082.0,1545.7 L2083.0,1544.2 L2084.0,1540.4 L2085.0,1539.3 L2086.0,1542.6 L2087.0,1543.7 L2088.0,1540.3 L2089.0,1541.7 L2090.0,1541.8 L2091.0,1542.4 L2092.0,1542.1 L2093.0,1543.1 L2094.0,1543.8 L2095.0,1542.5 L2096.0,1543.4 L2097.0,1545.0 L2098.0,1541.1 L2099.0,1541.0 L2100.0,1543.1 L2101.0,1544.8 L2102.0,1542.6 L2103.0,1543.8 L2104.0,1542.0 L2105.0,1543.6 L2106.0,1541.6 L2107.0,1543.3 L2108.0,1542.9 L2109.0,1542.9 L2110.0,1544.2 L2111.0,1543.8 L2112.0,1541.6 L2113.0,1543.6 L2114.0,1540.2 L2115.0,1543.7 L2116.0,1546.0 L2117.0,1543.1 L2118.0,1543.1 L2119.0,1542.5 L2120.0,1543.5 L2121.0,1541.8 L2122.0,1543.3 L2123.0,1542.1 L2124.0,1541.9 L2125.0,1542.6 L2126.0,1542.4 L2127.0,1540.2 L2128.0,1545.1 L2129.0,1542.6 L2130.0,1540.2 L2131.0,1543.8 L2132.0,1542.4 L2133.0,1542.7 L2134.0,1543.4 L2135.0,1541.3 L2136.0,1538.6 L2137.0,1542.3 L2138.0,1542.7 L2139.0,1543.7 L2140.0,1541.4 L2141.0,1542.1 L2142.0,1542.9 L2143.0,1542.0 L2144.0,1542.1 L2145.0,1542.7 L2146.0,1541.1 L2147.0,1544.5 L2148.0,1541.2 L2149.0,1542.5 L2150.0,1542.0 L2151.0,1541.5 L2152.0,1543.1 L2153.0,1543.7 L2154.0,1544.3 L2155.0,1543.1 L2156.0,1541.8 L2157.0,1543.5 L2158.0,1540.5 L2159.0,1542.4 L2160.0,1543.0 L2161.0,1543.1 L2162.0,1540.9 L2163.0,1540.4 L2164.0,1544.5 L2165.0,1541.7 L2166.0,1540.2 L2167.0,1540.7 L2168.0,1542.3 L2169.0,1543.8 L2170.0,1542.3 L2171.0,1543.9 L2172.0,1542.6 L2173.0,1542.9 L2174.0,1543.6 L2175.0,1541.8 L2176.0,1542.6 L2177.0,1541.7 L2178.0,1541.4 L2179.0,1543.1 L2180.0,1541.2 L2181.0,1542.3 L2182.0,1541.2 L2183.0,1542.1 L2184.0,1541.5 L2185.0,1543.6 L2186.0,1542.3 L2187.0,1542.3 L2188.0,1544.3 L2189.0,1538.4 L2190.0,1540.7 L2191.0,1538.5 L2192.0,1542.1 L2193.0,1542.6 L2194.0,1542.9 L2195.0,1542.4 L2196.0,1540.9 L2197.0,1544.3 L2198.0,1542.4 L2199.0,1541.6 L2200.0,1540.5 L2201.0,1542.5 L2202.0,1541.2 L2203.0,1541.3 L2204.0,1542.1 L2205.0,1542.1 L2206.0,1540.7 L2207.0,1543.3 L2208.0,1540.3 L2209.0,1540.1 L2210.0,1541.9 L2211.0,1541.7 L2212.0,1541.5 L2213.0,1540.8 L2214.0,1541.3 L2215.0,1540.4 L2216.0,1538.9 L2217.0,1541.9 L2218.0,1539.5 L2219.0,1540.4 L2220.0,1541.5 L2221.0,1540.5 L2222.0,1543.9 L2223.0,1538.3 L2224.0,1539.0 L2225.0,1539.9 L2226.0,1541.4 L2227.0,1539.1 L2228.0,1537.4 L2229.0,1540.6 L2230.0,1537.7 L2231.0,1538.5 L2232.0,1539.7 L2233.0,1537.5 L2234.0,1537.7 L2235.0,1538.8 L2236.0,1537.8 L2237.0,1538.4 L2238.0,1536.8 L2239.0,1537.9 L2240.0,1536.6 L2241.0,1536.1 L2242.0,1540.6 L2243.0,1539.0 L2244.0,1539.7 L2245.0,1537.4 L2246.0,1538.8 L2247.0,1538.7 L2248.0,1537.3 L2249.0,1540.1 L2250.0,1538.6 L2251.0,1539.4 L2252.0,1537.9 L2253.0,1541.3 L2254.0,1541.2 L2255.0,1540.8 L2256.0,1539.3 L2257.0,1539.9 L2258.0,1542.3 L2259.0,1540.4 L2260.0,1541.2 L2261.0,1541.2 L2262.0,1539.6 L2263.0,1543.1 L2264.0,1538.6 L2265.0,1541.6 L2266.0,1541.2 L2267.0,1539.3 L2268.0,1541.9 L2269.0,1542.1 L2270.0,1541.6 L2271.0,1540.4 L2272.0,1542.1 L2273.0,1543.0 L2274.0,1541.9 L2275.0,1543.8 L2276.0,1542.7 L2277.0,1542.6 L2278.0,1543.4 L2279.0,1540.8 L2280.0,1541.0 L2281.0,1542.3 L2282.0,1542.3 L2283.0,1543.6 L2284.0,1543.1 L2285.0,1541.9 L2286.0,1541.9 L2287.0,1541.3 L2288.0,1541.2 L2289.0,1541.1 L2290.0,1542.8 L2291.0,1541.0 L2292.0,1541.2 L2293.0,1541.8 L2294.0,1540.9 L2295.0,1541.3 L2296.0,1538.7 L2297.0,1542.1 L2298.0,1541.2 L2299.0,1541.8 L2300.0,1542.0 L2301.0,1539.1 L2302.0,1544.6 L2303.0,1541.7 L2304.0,1541.7 L2305.0,1539.1 L2306.0,1542.2 L2307.0,1541.9 L2308.0,1540.9 L2309.0,1541.6 L2310.0,1542.9 L2311.0,1540.8 L2312.0,1540.0 L2313.0,1542.8 L2314.0,1541.4 L2315.0,1540.7 L2316.0,1543.9 L2317.0,1541.0 L2318.0,1540.4 L2319.0,1540.8 L2320.0,1539.8 L2321.0,1540.4 L2322.0,1540.0 L2323.0,1538.7 L2324.0,1538.8 L2325.0,1539.1 L2326.0,1538.6 L2327.0,1538.1 L2328.0,1537.4 L2329.0,1535.5 L2330.0,1534.5 L2331.0,1531.6 L2332.0,1529.8 L2333.0,1529.4 L2334.0,1522.7 L2335.0,1523.4 L2336.0,1524.8 L2337.0,1515.0 L2338.0,1517.8 L2339.0,1511.6 L2340.0,1514.2 L2341.0,1516.3 L2342.0,1516.6 L2343.0,1514.0 L2344.0,1514.6 L2345.0,1515.8 L2346.0,1520.5 L2347.0,1520.5 L2348.0,1522.8 L2349.0,1524.8 L2350.0,1526.6 L2351.0,1528.3 L2352.0,1529.1 L2353.0,1528.1 L2354.0,1533.5 L2355.0,1528.9 L2356.0,1535.3 L2357.0,1533.8 L2358.0,1535.1 L2359.0,1535.4 L2360.0,1536.2 L2361.0,1537.2 L2362.0,1537.4 L2363.0,1536.7 L2364.0,1539.6 L2365.0,1538.1 L2366.0,1540.9 L2367.0,1539.1 L2368.0,1538.6 L2369.0,1540.3 L2370.0,1541.0 L2371.0,1538.8 L2372.0,1539.8 L2373.0,1542.1 L2374.0,1539.0 L2375.0,1539.3 L2376.0,1540.7 L2377.0,1539.0 L2378.0,1537.4 L2379.0,1538.5 L2380.0,1541.3 L2381.0,1541.7 L2382.0,1541.7"/>
<path stroke="#ff4040" d="M172.0,941.4 L173.0,942.2 L174.0,940.8 L175.0,939.2 L176.0,940.3 L177.0,938.9 L178.0,941.6 L179.0,944.8 L180.0,940.2 L181.0,939.9 L182.0,942.6 L183.0,942.3 L184.0,941.6 L185.0,939.0 L186.0,941.3 L187.0,943.1 L188.0,938.0 L189.0,940.2 L190.0,936.6 L191.0,938.1 L192.0,936.7 L193.0,940.7 L194.0,938.1 L195.0,941.9 L196.0,941.6 L197.0,940.7 L198.0,934.9 L199.0,939.8 L200.0,941.0 L201.0,941.3 L202.0,937.2 L203.0,939.7 L204.0,938.4 L205.0,938.7 L206.0,943.3 L207.0,938.5 L208.0,940.2 L209.0,942.3 L210.0,938.3 L211.0,938.9 L212.0,938.5 L213.0,936.2 L214.0,928.3 L215.0,923.4 L216.0,914.8 L217.0,896.4 L217.9,894.2 L218.0,893.9 L219.0,899.7 L220.0,919.2 L221.0,927.2 L222.0,929.4 L223.0,936.6 L224.0,939.7 L225.0,938.5 L226.0,941.1 L227.0,939.5 L228.0,941.5 L229.0,943.5 L230.0,938.2 L231.0,940.3 L232.0,938.5 L233.0,939.8 L234.0,936.2 L235.0,937.3 L236.0,937.5 L237.0,938.9 L238.0,936.3 L239.0,922.9 L240.0,911.9 L241.0,898.5 L242.0,876.9 L242.8,873.8 L243.0,874.3 L244.0,888.5 L245.0,906.1 L246.0,919.0 L247.0,928.9 L248.0,934.4 L249.0,941.4 L250.0,937.5 L251.0,938.5 L252.0,940.6 L253.0,939.7 L254.0,939.7 L255.0,937.6 L256.0,940.5 L257.0,939.5 L258.0,943.7 L259.0,942.5 L260.0,940.8 L261.0,942.6 L262.0,940.1 L263.0,943.6 L264.0,941.0 L265.0,942.5 L266.0,937.9 L267.0,942.0 L268.0,936.9 L269.0,936.0 L270.0,940.4 L271.0,938.9 L272.0,941.6 L273.0,946.8 L274.0,939.1 L275.0,939.6 L276.0,941.7 L277.0,942.4 L278.0,940.7 L279.0,940.6 L280.0,942.9 L281.0,942.4 L282.0,938.5 L283.0,940.9 L284.0,941.2 L285.0,938.4 L286.0,941.7 L287.0,938.9 L288.0,943.4 L289.0,941.4 L290.0,941.2 L291.0,939.4 L292.0,940.6 L293.0,935.8 L294.0,938.0 L295.0,941.7 L296.0,935.4 L297.0,942.8 L298.0,936.2 L299.0,942.4 L300.0,938.4 L301.0,942.4 L302.0,940.6 L303.0,936.4 L304.0,943.3 L305.0,943.6 L306.0,939.7 L307.0,939.0 L308.0,939.1 L309.0,936.8 L310.0,941.8 L311.0,937.3 L312.0,938.2 L313.0,935.9 L314.0,935.7 L315.0,933.4 L316.0,939.0 L317.0,934.2 L318.0,935.6 L319.0,931.0 L320.0,925.8 L321.0,920.7 L322.0,906.2 L323.0,876.0 L324.0,812.0 L325.0,712.1 L326.0,601.8 L327.0,548.9 L328.0,602.6 L329.0,711.9 L330.0,811.7 L331.0,877.0 L332.0,912.0 L333.0,917.6 L334.0,927.1 L335.0,929.3 L336.0,928.5 L337.0,936.5 L338.0,935.7 L339.0,936.8 L340.0,935.4 L341.0,939.0 L342.0,937.0 L343.0,938.4 L344.0,936.2 L345.0,936.2 L346.0,942.9 L347.0,938.4 L348.0,940.6 L349.0,939.9 L350.0,939.0 L351.0,939.0 L352.0,941.9 L353.0,939.7 L354.0,940.1 L355.0,940.6 L356.0,943.6 L357.0,942.4 L358.0,941.7 L359.0,939.4 L360.0,937.4 L361.0,943.3 L362.0,943.4 L363.0,940.6 L364.0,942.4 L365.0,943.0 L366.0,943.1 L367.0,943.4 L368.0,940.0 L369.0,944.9 L370.0,938.0 L371.0,943.3 L372.0,942.4 L373.0,943.4 L374.0,945.9 L375.0,945.0 L376.0,938.4 L377.0,937.1 L378.0,943.3 L379.0,938.8 L380.0,941.3 L381.0,943.4 L382.0,937.2 L383.0,936.1 L384.0,942.0 L385.0,941.5 L386.0,940.8 L387.0,941.5 L388.0,939.2 L389.0,937.6 L390.0,941.0 L391.0,939.0 L392.0,937.3 L393.0,942.7 L394.0,941.2 L395.0,942.4 L396.0,938.9 L397.0,939.8 L398.0,938.9 L399.0,939.2 L400.0,941.9 L401.0,939.4 L402.0,942.3 L403.0,942.2 L404.0,946.4 L405.0,937.9 L406.0,943.6 L407.0,941.1 L408.0,941.3 L409.0,937.7 L410.0,940.2 L411.0,943.1 L412.0,941.1 L413.0,941.5 L414.0,940.5 L415.0,944.1 L416.0,941.2 L417.0,935.7 L418.0,939.4 L419.0,936.2 L420.0,933.0 L421.0,939.8 L422.0,944.4 L423.0,941.1 L424.0,938.0 L425.0,938.6 L426.0,943.7 L427.0,941.2 L428.0,940.9 L429.0,940.6 L430.0,940.7 L431.0,942.5 L432.0,941.8 L433.0,940.8 L434.0,937.4 L435.0,941.0 L436.0,937.6 L437.0,941.2 L438.0,933.3 L439.0,932.8 L440.0,928.8 L441.0,925.5 L442.0,929.0 L443.0,930.2 L444.0,919.7 L445.0,906.6 L446.0,874.9 L447.0,834.7 L448.0,811.8 L448.2,811.0 L449.0,823.3 L450.0,857.2 L451.0,893.6 L452.0,917.2 L453.0,932.6 L454.0,935.3 L455.0,936.6 L456.0,941.6 L457.0,937.1 L458.0,938.0 L459.0,934.8 L460.0,943.6 L461.0,942.3 L462.0,942.4 L463.0,941.9 L464.0,940.6 L465.0,941.0 L466.0,939.9 L467.0,940.1 L468.0,940.8 L469.0,944.5 L470.0,942.2 L471.0,940.7 L472.0,939.4 L473.0,939.3 L474.0,944.9 L475.0,942.2 L476.0,941.1 L477.0,940.1 L478.0,938.2 L479.0,940.8 L480.0,943.2 L481.0,940.0 L482.0,940.5 L483.0,940.5 L484.0,941.3 L485.0,937.1 L486.0,940.5 L487.0,938.9 L488.0,943.3 L489.0,939.1 L490.0,942.5 L491.0,944.9 L492.0,940.3 L493.0,939.6 L494.0,941.6 L495.0,941.1 L496.0,938.6 L497.0,942.3 L498.0,946.1 L499.0,940.5 L500.0,940.6 L501.0,938.5 L502.0,941.9 L503.0,938.0 L504.0,938.3 L505.0,944.3 L506.0,938.8 L507.0,943.8 L508.0,944.9 L509.0,941.8 L510.0,942.5 L511.0,946.0 L512.0,940.6 L513.0,939.6 L514.0,937.7 L515.0,941.2 L516.0,944.8 L517.0,943.5 L518.0,938.7 L519.0,938.9 L520.0,939.8 L521.0,941.8 L522.0,940.5 L523.0,941.6 L524.0,941.8 L525.0,940.3 L526.0,940.9 L527.0,941.5 L528.0,940.8 L529.0,942.3 L530.0,945.7 L531.0,942.5 L532.0,941.1 L533.0,936.8 L534.0,941.9 L535.0,936.1 L536.0,937.4 L537.0,943.1 L538.0,942.7 L539.0,940.5 L540.0,936.6 L541.0,939.9 L542.0,939.2 L543.0,942.4 L544.0,946.5 L545.0,941.4 L546.0,938.8 L547.0,937.8 L548.0,940.6 L549.0,940.3 L550.0,937.8 L551.0,941.0 L552.0,937.8 L553.0,943.4 L554.0,943.3 L555.0,943.3 L556.0,939.4 L557.0,941.8 L558.0,940.2 L559.0,939.5 L560.0,939.6 L561.0,937.1 L562.0,936.7 L563.0,942.3 L564.0,939.7 L565.0,940.7 L566.0,942.6 L567.0,935.6 L568.0,937.9 L569.0,940.2 L570.0,940.6 L571.0,938.5 L572.0,941.8 L573.0,939.5 L574.0,935.6 L575.0,936.0 L576.0,939.9 L577.0,938.5 L578.0,931.7 L579.0,938.9 L580.0,935.5 L581.0,935.0 L582.0,925.3 L583.0,913.3 L584.0,883.9 L585.0,842.1 L586.0,775.7 L587.0,723.0 L587.5,714.5 L588.0,722.8 L589.0,775.1 L590.0,839.3 L591.0,890.5 L592.0,910.5 L593.0,929.1 L594.0,932.3 L595.0,931.2 L596.0,934.1 L597.0,935.3 L598.0,937.1 L599.0,936.4 L600.0,936.1 L601.0,937.8 L602.0,936.3 L603.0,935.8 L604.0,939.2 L605.0,941.7 L606.0,935.7 L607.0,939.7 L608.0,938.2 L609.0,937.4 L610.0,942.1 L611.0,938.7 L612.0,943.8 L613.0,938.2 L614.0,941.1 L615.0,939.6 L616.0,938.3 L617.0,941.7 L618.0,939.9 L619.0,941.8 L620.0,940.2 L621.0,937.6 L622.0,940.1 L623.0,940.5 L624.0,942.8 L625.0,938.1 L626.0,940.3 L627.0,936.1 L628.0,942.0 L629.0,937.7 L630.0,935.9 L631.0,940.3 L632.0,943.2 L633.0,936.6 L634.0,937.7 L635.0,938.6 L636.0,937.6 L637.0,941.4 L638.0,938.4 L639.0,938.6 L640.0,941.9 L641.0,938.5 L642.0,941.5 L643.0,937.9 L644.0,937.3 L645.0,935.7 L646.0,945.0 L647.0,939.5 L648.0,940.8 L649.0,940.1 L650.0,940.5 L651.0,940.2 L652.0,944.8 L653.0,937.3 L654.0,935.9 L655.0,937.2 L656.0,936.2 L657.0,941.3 L658.0,941.3 L659.0,936.5 L660.0,935.0 L661.0,937.1 L662.0,940.5 L663.0,927.7 L664.0,932.0 L665.0,919.5 L666.0,912.2 L667.0,890.2 L668.0,879.7 L668.5,877.3 L669.0,879.1 L670.0,896.4 L671.0,911.5 L672.0,921.2 L673.0,928.2 L674.0,929.9 L675.0,935.7 L676.0,937.6 L677.0,938.0 L678.0,938.4 L679.0,936.0 L680.0,938.9 L681.0,939.1 L682.0,942.5 L683.0,944.0 L684.0,939.1 L685.0,937.5 L686.0,939.3 L687.0,937.9 L688.0,937.6 L689.0,939.3 L690.0,936.8 L691.0,940.9 L692.0,939.0 L693.0,939.9 L694.0,938.7 L695.0,937.3 L696.0,936.6 L697.0,938.3 L698.0,937.3 L699.0,939.2 L700.0,938.4 L701.0,934.7 L702.0,938.0 L703.0,934.0 L704.0,935.4 L705.0,935.6 L706.0,930.2 L707.0,934.4 L708.0,931.9 L709.0,925.6 L710.0,913.7 L711.0,894.7 L712.0,868.0 L713.0,846.5 L713.6,839.4 L714.0,838.9 L715.0,844.9 L716.0,853.1 L717.0,855.9 L717.5,860.0 L718.0,867.5 L719.0,891.9 L720.0,906.6 L721.0,925.0 L722.0,929.8 L723.0,931.4 L724.0,931.1 L725.0,925.6 L726.0,920.4 L727.0,912.8 L728.0,900.3 L729.0,893.1 L730.0,893.1 L731.0,903.8 L732.0,907.2 L733.0,894.5 L734.0,855.0 L735.0,783.6 L736.0,684.9 L737.0,588.2 L737.8,556.4 L738.0,558.8 L739.0,622.4 L740.0,726.8 L741.0,817.8 L742.0,879.6 L743.0,904.4 L744.0,919.3 L745.0,929.2 L746.0,931.8 L747.0,929.1 L748.0,930.0 L749.0,928.2 L750.0,930.1 L751.0,933.1 L752.0,932.9 L753.0,931.5 L754.0,932.5 L755.0,925.0 L756.0,920.3 L757.0,907.3 L758.0,876.6 L759.0,827.8 L760.0,772.8 L761.0,739.1 L761.2,738.0 L762.0,754.6 L763.0,804.9 L764.0,859.6 L765.0,895.9 L766.0,917.8 L767.0,922.2 L768.0,930.1 L769.0,931.6 L770.0,932.3 L771.0,929.7 L772.0,935.3 L773.0,939.0 L774.0,938.1 L775.0,936.0 L776.0,937.8 L777.0,940.0 L778.0,931.3 L779.0,938.1 L780.0,940.0 L781.0,940.4 L782.0,943.1 L783.0,941.8 L784.0,939.8 L785.0,939.8 L786.0,941.1 L787.0,937.8 L788.0,939.1 L789.0,941.5 L790.0,944.2 L791.0,938.9 L792.0,939.2 L793.0,939.9 L794.0,942.8 L795.0,939.3 L796.0,943.1 L797.0,937.0 L798.0,939.0 L799.0,939.0 L800.0,941.4 L801.0,942.1 L802.0,935.7 L803.0,937.1 L804.0,940.3 L805.0,937.7 L806.0,935.6 L807.0,942.0 L808.0,940.6 L809.0,940.5 L810.0,938.1 L811.0,941.8 L812.0,938.5 L813.0,941.8 L814.0,936.7 L815.0,936.8 L816.0,939.4 L817.0,937.0 L818.0,940.3 L819.0,939.0 L820.0,935.7 L821.0,937.8 L822.0,935.9 L823.0,937.9 L824.0,932.1 L825.0,930.0 L826.0,931.2 L827.0,930.3 L828.0,925.9 L829.0,917.8 L830.0,916.1 L831.0,918.0 L832.0,914.9 L833.0,910.4 L834.0,906.6 L835.0,894.1 L836.0,871.8 L837.0,855.6 L837.6,851.6 L838.0,852.3 L839.0,857.3 L840.0,861.6 L841.0,857.3 L842.0,856.2 L843.0,871.2 L844.0,894.9 L845.0,905.1 L846.0,904.8 L847.0,886.7 L848.0,863.1 L849.0,830.6 L850.0,813.3 L851.0,818.0 L852.0,829.8 L853.0,833.7 L854.0,830.7 L854.6,833.9 L855.0,839.7 L856.0,869.6 L857.0,896.1 L858.0,913.9 L859.0,927.8 L860.0,936.7 L861.0,933.1 L862.0,934.0 L863.0,938.8 L864.0,937.6 L865.0,938.5 L866.0,935.8 L867.0,942.2 L868.0,941.9 L869.0,939.2 L870.0,939.6 L871.0,932.9 L872.0,939.7 L873.0,937.7 L874.0,939.3 L875.0,940.0 L876.0,937.4 L877.0,934.0 L878.0,939.2 L879.0,936.4 L880.0,937.3 L881.0,936.6 L882.0,937.1 L883.0,932.0 L884.0,940.7 L885.0,937.9 L886.0,939.6 L887.0,941.0 L888.0,934.4 L889.0,926.1 L890.0,921.9 L891.0,911.1 L892.0,901.7 L893.0,894.5 L893.3,892.6 L894.0,894.8 L895.0,895.0 L896.0,901.9 L897.0,899.8 L897.7,900.9 L898.0,902.7 L899.0,911.7 L900.0,922.2 L901.0,926.8 L902.0,934.6 L903.0,940.7 L904.0,941.5 L905.0,940.0 L906.0,938.5 L907.0,935.0 L908.0,940.1 L909.0,936.0 L910.0,935.4 L911.0,934.1 L912.0,934.1 L913.0,931.6 L914.0,931.2 L915.0,927.2 L916.0,927.7 L917.0,930.7 L918.0,926.0 L919.0,924.4 L920.0,924.5 L921.0,922.1 L922.0,911.0 L923.0,899.2 L923.5,888.4 L924.0,873.3 L925.0,832.2 L926.0,780.7 L927.0,729.5 L928.0,704.3 L928.1,704.0 L929.0,721.1 L930.0,765.9 L931.0,817.7 L932.0,858.8 L933.0,889.3 L934.0,905.3 L935.0,917.3 L936.0,917.5 L937.0,928.2 L938.0,928.8 L939.0,930.3 L940.0,935.0 L941.0,932.3 L942.0,930.2 L943.0,935.1 L944.0,932.7 L945.0,935.2 L946.0,938.1 L947.0,938.2 L948.0,941.6 L949.0,937.3 L950.0,934.1 L951.0,936.2 L952.0,935.9 L953.0,935.3 L954.0,939.5 L955.0,936.9 L956.0,933.6 L957.0,940.4 L958.0,938.4 L959.0,939.7 L960.0,939.1 L961.0,940.5 L962.0,939.0 L963.0,942.0 L964.0,940.0 L965.0,940.0 L966.0,940.1 L967.0,935.4 L968.0,938.7 L969.0,938.5 L970.0,939.7 L971.0,935.8 L972.0,943.3 L973.0,939.5 L974.0,936.2 L975.0,934.9 L976.0,938.5 L977.0,939.0 L978.0,937.5 L979.0,939.5 L980.0,937.7 L981.0,940.7 L982.0,937.5 L983.0,939.2 L984.0,941.8 L985.0,945.8 L986.0,936.8 L987.0,938.2 L988.0,937.3 L989.0,941.3 L990.0,936.5 L991.0,938.2 L992.0,939.3 L993.0,936.9 L994.0,937.0 L995.0,938.2 L996.0,934.1 L997.0,935.8 L998.0,938.4 L999.0,939.8 L1000.0,938.9 L1001.0,935.0 L1002.0,938.3 L1003.0,941.4 L1004.0,940.8 L1005.0,939.2 L1006.0,937.2 L1007.0,941.0 L1008.0,938.0 L1009.0,936.5 L1010.0,937.4 L1011.0,943.0 L1012.0,940.0 L1013.0,942.3 L1014.0,938.2 L1015.0,941.8 L1016.0,937.9 L1017.0,939.0 L1018.0,945.6 L1019.0,941.3 L1020.0,938.1 L1021.0,939.2 L1022.0,940.2 L1023.0,942.4 L1024.0,938.2 L1025.0,935.0 L1026.0,938.7 L1027.0,939.4 L1028.0,939.7 L1029.0,942.7 L1030.0,940.2 L1031.0,941.4 L1032.0,936.6 L1033.0,941.5 L1034.0,944.6 L1035.0,941.3 L1036.0,940.0 L1037.0,939.7 L1038.0,943.8 L1039.0,937.0 L1040.0,939.1 L1041.0,940.5 L1042.0,941.2 L1043.0,938.2 L1044.0,940.1 L1045.0,938.6 L1046.0,939.6 L1047.0,939.0 L1048.0,936.5 L1049.0,939.3 L1050.0,941.5 L1051.0,936.9 L1052.0,938.7 L1053.0,940.9 L1054.0,936.6 L1055.0,939.7 L1056.0,936.6 L1057.0,942.1 L1058.0,945.0 L1059.0,944.3 L1060.0,938.7 L1061.0,941.1 L1062.0,939.6 L1063.0,939.5 L1064.0,943.1 L1065.0,935.9 L1066.0,941.9 L1067.0,939.1 L1068.0,942.7 L1069.0,939.7 L1070.0,937.5 L1071.0,939.9 L1072.0,941.1 L1073.0,939.3 L1074.0,940.4 L1075.0,937.9 L1076.0,933.9 L1077.0,941.4 L1078.0,940.9 L1079.0,939.6 L1080.0,939.4 L1081.0,941.8 L1082.0,938.0 L1083.0,937.4 L1084.0,938.7 L1085.0,942.1 L1086.0,935.7 L1087.0,942.1 L1088.0,937.5 L1089.0,936.4 L1090.0,942.3 L1091.0,938.9 L1092.0,935.9 L1093.0,938.2 L1094.0,941.5 L1095.0,942.1 L1096.0,938.0 L1097.0,940.1 L1098.0,940.9 L1099.0,937.5 L1100.0,940.0 L1101.0,939.0 L1102.0,937.8 L1103.0,937.9 L1104.0,939.2 L1105.0,939.2 L1106.0,937.7 L1107.0,938.0 L1108.0,941.8 L1109.0,939.6 L1110.0,941.3 L1111.0,942.1 L1112.0,940.5 L1113.0,944.7 L1114.0,937.0 L1115.0,941.1 L1116.0,938.2 L1117.0,943.7 L1118.0,943.3 L1119.0,934.1 L1120.0,936.6 L1121.0,940.7 L1122.0,941.0 L1123.0,940.8 L1124.0,938.8 L1125.0,940.1 L1126.0,940.6 L1127.0,938.8 L1128.0,941.5 L1129.0,933.3 L1130.0,940.5 L1131.0,936.4 L1132.0,941.3 L1133.0,938.4 L1134.0,936.7 L1135.0,939.9 L1136.0,936.6 L1137.0,936.6 L1138.0,935.0 L1139.0,938.8 L1140.0,940.1 L1141.0,941.4 L1142.0,938.5 L1143.0,941.5 L1144.0,938.9 L1145.0,938.6 L1146.0,940.3 L1147.0,941.5 L1148.0,938.0 L1149.0,938.2 L1150.0,938.4 L1151.0,939.0 L1152.0,936.6 L1153.0,941.4 L1154.0,937.8 L1155.0,939.9 L1156.0,936.7 L1157.0,939.7 L1158.0,939.7 L1159.0,937.7 L1160.0,943.8 L1161.0,939.6 L1162.0,943.2 L1163.0,941.1 L1164.0,937.0 L1165.0,937.7 L1166.0,939.7 L1167.0,938.8 L1168.0,938.7 L1169.0,937.9 L1170.0,934.1 L1171.0,938.0 L1172.0,933.0 L1173.0,939.5 L1174.0,936.7 L1175.0,936.7 L1176.0,937.9 L1177.0,939.1 L1178.0,934.8 L1179.0,933.9 L1180.0,935.6 L1181.0,933.1 L1182.0,935.8 L1183.0,942.1 L1184.0,935.4 L1185.0,939.6 L1186.0,934.4 L1187.0,938.4 L1188.0,936.7 L1189.0,937.2 L1190.0,938.4 L1191.0,941.0 L1192.0,936.1 L1193.0,933.9 L1194.0,927.3 L1195.0,925.4 L1196.0,915.9 L1197.0,911.1 L1197.5,909.0 L1198.0,910.4 L1199.0,906.8 L1200.0,912.7 L1201.0,914.1 L1202.0,903.9 L1203.0,893.4 L1204.0,887.4 L1204.6,885.4 L1205.0,886.5 L1206.0,897.6 L1207.0,901.0 L1208.0,896.2 L1209.0,896.0 L1209.8,897.8 L1210.0,899.6 L1211.0,907.7 L1212.0,919.5 L1213.0,931.9 L1214.0,936.0 L1215.0,934.5 L1216.0,933.4 L1217.0,932.8 L1218.0,935.2 L1219.0,931.6 L1220.0,939.3 L1221.0,936.0 L1222.0,938.9 L1223.0,942.4 L1224.0,940.8 L1225.0,935.0 L1226.0,940.1 L1227.0,940.9 L1228.0,936.2 L1229.0,935.7 L1230.0,937.8 L1231.0,934.1 L1232.0,941.8 L1233.0,932.1 L1234.0,935.4 L1235.0,937.5 L1236.0,937.6 L1237.0,938.6 L1238.0,938.9 L1239.0,937.7 L1240.0,941.0 L1241.0,932.8 L1242.0,938.2 L1243.0,936.4 L1244.0,938.5 L1245.0,938.7 L1246.0,935.9 L1247.0,936.6 L1248.0,940.2 L1249.0,939.0 L1250.0,936.4 L1251.0,943.2 L1252.0,943.9 L1253.0,934.4 L1254.0,938.8 L1255.0,944.3 L1256.0,940.0 L1257.0,938.5 L1258.0,937.4 L1259.0,936.5 L1260.0,937.3 L1261.0,936.3 L1262.0,939.3 L1263.0,935.9 L1264.0,934.1 L1265.0,928.2 L1266.0,925.0 L1267.0,921.1 L1268.0,924.5 L1269.0,932.8 L1270.0,933.4 L1271.0,931.7 L1272.0,927.8 L1272.5,927.0 L1273.0,927.6 L1274.0,930.7 L1275.0,936.7 L1276.0,933.8 L1277.0,940.4 L1278.0,937.3 L1279.0,935.4 L1280.0,936.1 L1281.0,935.6 L1282.0,937.6 L1283.0,935.3 L1284.0,939.9 L1285.0,935.0 L1286.0,931.1 L1287.0,934.8 L1288.0,931.4 L1289.0,936.1 L1290.0,938.6 L1291.0,937.1 L1292.0,931.3 L1293.0,931.6 L1294.0,936.3 L1295.0,929.6 L1296.0,924.2 L1297.0,920.9 L1298.0,917.3 L1299.0,905.6 L1300.0,894.7 L1301.0,890.5 L1301.3,890.3 L1302.0,890.5 L1303.0,894.0 L1304.0,904.9 L1305.0,910.2 L1306.0,919.7 L1307.0,925.4 L1308.0,934.9 L1309.0,928.8 L1310.0,931.8 L1311.0,932.1 L1312.0,933.6 L1313.0,934.4 L1314.0,928.9 L1315.0,925.2 L1316.0,918.7 L1317.0,914.5 L1318.0,910.7 L1319.0,900.5 L1320.0,889.5 L1321.0,886.5 L1321.5,886.0 L1322.0,887.1 L1323.0,890.1 L1324.0,898.8 L1325.0,902.7 L1326.0,911.9 L1327.0,924.6 L1328.0,916.8 L1329.0,921.3 L1330.0,919.1 L1331.0,910.3 L1332.0,898.9 L1333.0,889.9 L1334.0,881.0 L1334.8,878.2 L1335.0,877.3 L1336.0,882.9 L1337.0,889.5 L1338.0,898.0 L1339.0,902.9 L1340.0,901.1 L1341.0,895.1 L1342.0,890.8 L1343.0,897.2 L1344.0,907.1 L1345.0,913.4 L1346.0,916.0 L1347.0,910.4 L1348.0,908.8 L1348.5,909.4 L1349.0,908.8 L1350.0,914.8 L1351.0,918.9 L1352.0,925.0 L1353.0,925.8 L1354.0,930.8 L1355.0,934.6 L1356.0,937.8 L1357.0,938.5 L1358.0,936.1 L1359.0,936.1 L1360.0,934.6 L1361.0,937.8 L1362.0,936.3 L1363.0,938.5 L1364.0,941.5 L1365.0,937.1 L1366.0,933.5 L1367.0,935.1 L1368.0,933.7 L1369.0,934.4 L1370.0,940.7 L1371.0,938.0 L1372.0,933.6 L1373.0,939.1 L1374.0,940.7 L1375.0,936.6 L1376.0,935.8 L1377.0,936.7 L1378.0,938.3 L1379.0,939.2 L1380.0,940.6 L1381.0,940.6 L1382.0,940.6 L1383.0,941.0 L1384.0,939.3 L1385.0,933.8 L1386.0,937.3 L1387.0,938.4 L1388.0,936.7 L1389.0,939.9 L1390.0,936.8 L1391.0,935.4 L1392.0,941.3 L1393.0,939.3 L1394.0,938.2 L1395.0,940.0 L1396.0,940.3 L1397.0,938.5 L1398.0,931.5 L1399.0,936.0 L1400.0,936.5 L1401.0,935.2 L1402.0,938.2 L1403.0,940.7 L1404.0,936.5 L1405.0,934.8 L1406.0,942.7 L1407.0,936.5 L1408.0,934.6 L1409.0,938.2 L1410.0,938.7 L1411.0,935.9 L1412.0,939.6 L1413.0,936.4 L1414.0,935.3 L1415.0,938.0 L1416.0,939.5 L1417.0,936.0 L1418.0,938.4 L1419.0,937.3 L1420.0,944.6 L1421.0,935.7 L1422.0,940.9 L1423.0,937.3 L1424.0,937.1 L1425.0,939.2 L1426.0,939.5 L1427.0,940.4 L1428.0,937.9 L1429.0,935.2 L1430.0,934.8 L1431.0,936.4 L1432.0,934.8 L1433.0,934.7 L1434.0,929.5 L1435.0,927.4 L1435.5,926.6 L1436.0,925.8 L1437.0,922.3 L1438.0,922.4 L1439.0,920.8 L1440.0,926.7 L1441.0,916.7 L1442.0,918.1 L1443.0,911.9 L1444.0,910.9 L1445.0,905.2 L1446.0,902.5 L1447.0,903.1 L1448.0,906.5 L1449.0,910.7 L1450.0,913.4 L1451.0,919.5 L1452.0,928.1 L1453.0,922.6 L1454.0,930.0 L1455.0,928.0 L1456.0,930.7 L1457.0,931.0 L1458.0,926.1 L1459.0,924.7 L1460.0,913.9 L1461.0,916.6 L1462.0,907.2 L1463.0,906.9 L1464.0,903.2 L1464.7,901.4 L1465.0,902.1 L1466.0,904.6 L1467.0,911.6 L1468.0,912.2 L1469.0,916.5 L1470.0,915.9 L1471.0,926.4 L1472.0,928.9 L1473.0,924.6 L1474.0,924.2 L1475.0,924.4 L1476.0,928.0 L1477.0,935.8 L1478.0,933.5 L1479.0,937.0 L1480.0,936.6 L1481.0,933.6 L1482.0,939.9 L1483.0,933.7 L1484.0,936.4 L1485.0,937.6 L1486.0,939.2 L1487.0,938.0 L1488.0,938.0 L1489.0,935.1 L1490.0,933.8 L1491.0,937.2 L1492.0,935.2 L1493.0,933.7 L1494.0,933.8 L1495.0,935.7 L1496.0,932.3 L1497.0,933.5 L1498.0,932.7 L1499.0,937.1 L1500.0,937.6 L1501.0,941.4 L1502.0,932.4 L1503.0,934.2 L1504.0,937.8 L1505.0,934.6 L1506.0,933.8 L1507.0,938.4 L1508.0,932.5 L1509.0,929.7 L1510.0,928.5 L1511.0,932.0 L1512.0,931.1 L1513.0,926.0 L1514.0,926.4 L1515.0,929.9 L1516.0,929.6 L1517.0,926.3 L1518.0,929.7 L1519.0,929.8 L1520.0,924.1 L1521.0,928.5 L1522.0,931.1 L1523.0,929.2 L1524.0,925.9 L1525.0,931.3 L1526.0,934.6 L1527.0,937.3 L1528.0,928.1 L1529.0,940.7 L1530.0,931.3 L1531.0,936.6 L1532.0,937.0 L1533.0,935.4 L1534.0,931.5 L1535.0,925.1 L1536.0,925.5 L1537.0,916.5 L1538.0,906.0 L1539.0,912.7 L1540.0,905.8 L1541.0,908.5 L1542.0,904.1 L1543.0,910.3 L1544.0,906.6 L1545.0,898.1 L1546.0,882.1 L1547.0,871.3 L1547.7,869.9 L1548.0,868.9 L1549.0,871.3 L1550.0,882.0 L1551.0,881.4 L1552.0,881.6 L1553.0,878.8 L1553.5,879.9 L1554.0,882.1 L1555.0,888.3 L1556.0,899.3 L1557.0,896.8 L1558.0,898.0 L1558.5,898.4 L1559.0,897.0 L1560.0,898.4 L1561.0,895.4 L1562.0,897.6 L1563.0,897.2 L1564.0,890.6 L1564.3,891.1 L1565.0,891.2 L1566.0,894.1 L1567.0,900.1 L1568.0,913.9 L1569.0,920.9 L1570.0,918.3 L1571.0,917.6 L1572.0,920.3 L1573.0,921.2 L1574.0,926.0 L1575.0,927.3 L1576.0,929.7 L1577.0,932.8 L1578.0,931.5 L1579.0,933.2 L1580.0,930.7 L1581.0,934.4 L1582.0,932.3 L1583.0,935.7 L1584.0,933.8 L1585.0,936.6 L1586.0,937.5 L1587.0,932.9 L1588.0,934.5 L1589.0,934.2 L1590.0,938.5 L1591.0,940.9 L1592.0,938.8 L1593.0,935.8 L1594.0,940.4 L1595.0,933.0 L1596.0,940.5 L1597.0,935.2 L1598.0,929.8 L1599.0,943.5 L1600.0,940.8 L1601.0,934.3 L1602.0,937.3 L1603.0,936.3 L1604.0,937.1 L1605.0,933.2 L1606.0,935.2 L1607.0,938.1 L1608.0,937.5 L1609.0,939.9 L1610.0,937.1 L1611.0,942.8 L1612.0,935.1 L1613.0,937.6 L1614.0,932.1 L1615.0,933.8 L1616.0,940.3 L1617.0,934.6 L1618.0,938.3 L1619.0,936.8 L1620.0,934.3 L1621.0,936.1 L1622.0,935.7 L1623.0,935.7 L1624.0,938.8 L1625.0,938.6 L1626.0,935.5 L1627.0,934.7 L1628.0,937.6 L1629.0,936.7 L1630.0,939.5 L1631.0,943.6 L1632.0,939.0 L1633.0,936.8 L1634.0,936.5 L1635.0,934.8 L1636.0,934.6 L1637.0,934.4 L1638.0,935.9 L1639.0,935.8 L1640.0,938.7 L1641.0,935.9 L1642.0,936.4 L1643.0,933.8 L1644.0,941.0 L1645.0,938.1 L1646.0,941.3 L1647.0,938.8 L1648.0,940.5 L1649.0,936.2 L1650.0,938.6 L1651.0,943.6 L1652.0,933.7 L1653.0,939.7 L1654.0,941.0 L1655.0,937.8 L1656.0,938.6 L1657.0,939.9 L1658.0,935.0 L1659.0,937.7 L1660.0,934.4 L1661.0,934.9 L1662.0,935.0 L1663.0,936.2 L1664.0,936.9 L1665.0,937.6 L1666.0,932.7 L1667.0,941.4 L1668.0,939.1 L1669.0,937.8 L1670.0,934.7 L1671.0,935.0 L1672.0,935.9 L1673.0,934.5 L1674.0,927.7 L1675.0,932.4 L1676.0,936.2 L1677.0,921.1 L1678.0,926.6 L1679.0,922.9 L1680.0,920.4 L1681.0,920.6 L1682.0,918.5 L1683.0,922.1 L1684.0,927.6 L1685.0,925.2 L1686.0,926.7 L1687.0,930.0 L1688.0,930.1 L1689.0,936.5 L1690.0,930.8 L1691.0,935.9 L1692.0,930.4 L1693.0,935.2 L1694.0,932.3 L1695.0,924.0 L1696.0,927.3 L1697.0,917.8 L1698.0,909.1 L1699.0,901.2 L1700.0,878.3 L1701.0,868.8 L1701.6,867.4 L1702.0,866.9 L1703.0,875.8 L1704.0,881.2 L1705.0,882.4 L1706.0,885.4 L1707.0,886.0 L1708.0,884.5 L1709.0,889.8 L1710.0,900.1 L1711.0,910.9 L1712.0,919.1 L1713.0,932.5 L1714.0,931.2 L1715.0,930.3 L1716.0,933.0 L1717.0,936.6 L1718.0,936.7 L1719.0,934.8 L1720.0,933.5 L1721.0,935.3 L1722.0,930.7 L1723.0,930.7 L1724.0,933.6 L1725.0,925.2 L1726.0,920.8 L1727.0,917.5 L1728.0,921.0 L1729.0,925.8 L1730.0,934.7 L1731.0,929.4 L1732.0,921.4 L1733.0,917.4 L1733.5,916.2 L1734.0,916.3 L1735.0,922.9 L1736.0,928.8 L1737.0,928.2 L1738.0,934.7 L1739.0,935.0 L1740.0,934.9 L1741.0,931.9 L1742.0,935.3 L1743.0,936.1 L1744.0,936.5 L1745.0,933.4 L1746.0,938.0 L1747.0,933.2 L1748.0,935.8 L1749.0,939.8 L1750.0,934.6 L1751.0,935.1 L1752.0,939.2 L1753.0,935.5 L1754.0,935.7 L1755.0,937.0 L1756.0,939.2 L1757.0,930.8 L1758.0,934.3 L1759.0,933.9 L1760.0,933.7 L1761.0,934.3 L1762.0,934.3 L1763.0,937.3 L1764.0,934.2 L1765.0,936.8 L1766.0,937.5 L1767.0,934.6 L1768.0,936.8 L1769.0,940.7 L1770.0,937.3 L1771.0,934.8 L1772.0,936.3 L1773.0,934.1 L1774.0,937.2 L1775.0,938.7 L1776.0,934.4 L1777.0,935.9 L1778.0,939.3 L1779.0,935.2 L1780.0,936.9 L1781.0,933.9 L1782.0,934.4 L1783.0,935.2 L1784.0,941.9 L1785.0,935.4 L1786.0,935.1 L1787.0,935.0 L1788.0,936.0 L1789.0,938.1 L1790.0,936.9 L1791.0,941.6 L1792.0,937.0 L1793.0,940.0 L1794.0,937.1 L1795.0,937.9 L1796.0,932.8 L1797.0,936.1 L1798.0,936.2 L1799.0,935.8 L1800.0,931.0 L1801.0,938.6 L1802.0,935.4 L1803.0,935.3 L1804.0,935.7 L1805.0,935.8 L1806.0,937.3 L1807.0,933.1 L1808.0,934.0 L1809.0,937.0 L1810.0,936.6 L1811.0,935.3 L1812.0,934.8 L1813.0,934.1 L1814.0,936.0 L1815.0,939.1 L1816.0,933.5 L1817.0,939.9 L1818.0,938.2 L1819.0,934.9 L1820.0,938.0 L1821.0,932.3 L1822.0,931.7 L1823.0,932.7 L1824.0,934.9 L1825.0,935.0 L1826.0,934.5 L1827.0,935.9 L1828.0,930.1 L1829.0,936.5 L1830.0,931.4 L1831.0,932.9 L1832.0,932.9 L1833.0,930.3 L1834.0,928.8 L1835.0,928.5 L1836.0,929.8 L1837.0,929.9 L1838.0,928.4 L1839.0,923.0 L1840.0,922.4 L1841.0,921.3 L1842.0,924.7 L1843.0,918.3 L1844.0,927.7 L1845.0,924.2 L1846.0,924.7 L1847.0,929.0 L1848.0,932.0 L1849.0,931.4 L1850.0,934.1 L1851.0,932.4 L1852.0,935.5 L1853.0,935.5 L1854.0,931.7 L1855.0,935.0 L1856.0,930.7 L1857.0,929.2 L1858.0,924.9 L1859.0,924.6 L1860.0,925.3 L1861.0,917.5 L1862.0,920.4 L1863.0,917.4 L1864.0,915.3 L1865.0,906.7 L1866.0,911.4 L1867.0,912.9 L1867.5,908.9 L1868.0,911.3 L1869.0,905.0 L1870.0,914.7 L1871.0,912.6 L1872.0,918.8 L1873.0,913.7 L1874.0,922.8 L1875.0,922.6 L1876.0,927.5 L1877.0,925.0 L1878.0,927.5 L1879.0,936.3 L1880.0,929.6 L1881.0,930.9 L1882.0,932.8 L1883.0,931.4 L1884.0,937.4 L1885.0,939.0 L1886.0,933.1 L1887.0,930.7 L1888.0,938.1 L1889.0,937.9 L1890.0,937.3 L1891.0,938.1 L1892.0,933.1 L1893.0,934.8 L1894.0,931.8 L1895.0,931.7 L1896.0,937.7 L1897.0,933.5 L1898.0,940.9 L1899.0,935.4 L1900.0,933.6 L1901.0,937.2 L1902.0,939.6 L1903.0,936.3 L1904.0,932.1 L1905.0,936.0 L1906.0,938.5 L1907.0,933.8 L1908.0,933.1 L1909.0,937.6 L1910.0,935.4 L1911.0,932.2 L1912.0,934.0 L1913.0,933.1 L1914.0,935.7 L1915.0,935.2 L1916.0,937.8 L1917.0,936.6 L1918.0,930.9 L1919.0,935.8 L1920.0,937.0 L1921.0,935.9 L1922.0,937.3 L1923.0,933.3 L1924.0,932.3 L1925.0,936.9 L1926.0,931.9 L1927.0,929.1 L1928.0,937.1 L1929.0,932.6 L1930.0,933.6 L1931.0,930.8 L1932.0,930.9 L1933.0,931.3 L1934.0,933.2 L1935.0,935.0 L1936.0,928.1 L1937.0,935.7 L1938.0,930.7 L1939.0,930.9 L1940.0,935.1 L1941.0,933.0 L1942.0,929.1 L1943.0,937.4 L1944.0,930.2 L1945.0,932.5 L1946.0,931.7 L1947.0,934.0 L1948.0,928.1 L1949.0,930.5 L1950.0,924.2 L1951.0,926.9 L1952.0,919.3 L1953.0,917.5 L1954.0,920.6 L1955.0,913.4 L1956.0,910.5 L1957.0,910.4 L1957.3,909.2 L1958.0,908.4 L1959.0,912.7 L1960.0,910.0 L1961.0,919.2 L1962.0,922.2 L1963.0,920.1 L1964.0,922.2 L1965.0,926.2 L1966.0,927.2 L1967.0,925.8 L1968.0,930.5 L1969.0,924.3 L1970.0,928.8 L1971.0,929.0 L1972.0,929.4 L1973.0,930.9 L1974.0,926.8 L1975.0,931.3 L1976.0,929.2 L1977.0,927.7 L1978.0,925.6 L1979.0,925.7 L1980.0,929.4 L1981.0,925.6 L1982.0,927.8 L1983.0,930.0 L1984.0,929.4 L1985.0,930.4 L1986.0,925.0 L1987.0,922.5 L1988.0,927.5 L1989.0,925.1 L1990.0,926.7 L1991.0,923.3 L1992.0,925.9 L1993.0,924.5 L1994.0,923.7 L1995.0,922.6 L1996.0,921.9 L1997.0,921.1 L1998.0,920.7 L1999.0,922.4 L2000.0,918.0 L2001.0,923.9 L2002.0,918.8 L2003.0,921.7 L2004.0,918.7 L2005.0,918.3 L2006.0,924.6 L2007.0,918.4 L2008.0,916.0 L2009.0,917.8 L2010.0,919.1 L2011.0,926.1 L2012.0,921.3 L2013.0,923.7 L2014.0,919.0 L2015.0,923.1 L2016.0,924.5 L2017.0,928.0 L2018.0,921.9 L2019.0,926.0 L2020.0,925.7 L2021.0,922.9 L2022.0,926.1 L2023.0,926.0 L2024.0,921.2 L2025.0,929.4 L2026.0,929.8 L2027.0,927.8 L2028.0,926.0 L2029.0,933.8 L2030.0,931.1 L2031.0,933.5 L2032.0,935.0 L2033.0,930.4 L2034.0,934.2 L2035.0,931.9 L2036.0,932.7 L2037.0,933.0 L2038.0,933.6 L2039.0,936.7 L2040.0,934.4 L2041.0,934.0 L2042.0,933.9 L2043.0,935.7 L2044.0,932.8 L2045.0,934.0 L2046.0,935.3 L2047.0,934.1 L2048.0,935.4 L2049.0,934.3 L2050.0,941.0 L2051.0,939.4 L2052.0,937.3 L2053.0,936.2 L2054.0,941.9 L2055.0,937.3 L2056.0,936.4 L2057.0,937.4 L2058.0,937.5 L2059.0,940.4 L2060.0,936.9 L2061.0,942.2 L2062.0,934.7 L2063.0,938.6 L2064.0,934.3 L2065.0,941.4 L2066.0,936.0 L2067.0,936.6 L2068.0,939.1 L2069.0,939.9 L2070.0,933.9 L2071.0,935.8 L2072.0,933.2 L2073.0,937.0 L2074.0,936.3 L2075.0,935.7 L2076.0,934.8 L2077.0,935.5 L2078.0,934.6 L2079.0,937.7 L2080.0,940.1 L2081.0,931.5 L2082.0,936.0 L2083.0,935.1 L2084.0,937.4 L2085.0,933.7 L2086.0,935.6 L2087.0,933.3 L2088.0,937.6 L2089.0,936.0 L2090.0,935.3 L2091.0,936.5 L2092.0,934.8 L2093.0,931.4 L2094.0,936.6 L2095.0,935.7 L2096.0,934.3 L2097.0,936.8 L2098.0,936.9 L2099.0,930.4 L2100.0,930.3 L2101.0,935.2 L2102.0,933.4 L2103.0,926.0 L2104.0,922.6 L2105.0,921.7 L2106.0,919.6 L2107.0,915.4 L2108.0,917.7 L2108.5,917.0 L2109.0,916.7 L2110.0,920.9 L2111.0,919.0 L2112.0,923.0 L2113.0,927.2 L2114.0,929.7 L2115.0,928.5 L2116.0,930.9 L2117.0,929.8 L2118.0,937.1 L2119.0,934.9 L2120.0,930.9 L2121.0,934.0 L2122.0,936.0 L2123.0,935.6 L2124.0,939.1 L2125.0,938.0 L2126.0,933.3 L2127.0,934.4 L2128.0,931.5 L2129.0,935.4 L2130.0,935.2 L2131.0,941.6 L2132.0,935.0 L2133.0,929.6 L2134.0,933.1 L2135.0,935.1 L2136.0,931.7 L2137.0,932.6 L2138.0,933.9 L2139.0,935.6 L2140.0,934.4 L2141.0,932.5 L2142.0,936.7 L2143.0,933.4 L2144.0,933.5 L2145.0,931.2 L2146.0,932.7 L2147.0,936.3 L2148.0,930.6 L2149.0,934.4 L2150.0,936.4 L2151.0,933.6 L2152.0,935.1 L2153.0,931.7 L2154.0,937.8 L2155.0,937.2 L2156.0,935.0 L2157.0,930.0 L2158.0,931.8 L2159.0,936.8 L2160.0,938.6 L2161.0,935.0 L2162.0,937.4 L2163.0,932.7 L2164.0,933.7 L2165.0,934.2 L2166.0,935.2 L2167.0,930.3 L2168.0,936.4 L2169.0,937.4 L2170.0,931.2 L2171.0,930.6 L2172.0,934.8 L2173.0,932.3 L2174.0,928.0 L2175.0,935.9 L2176.0,934.2 L2177.0,932.6 L2178.0,939.1 L2179.0,934.1 L2180.0,931.8 L2181.0,933.9 L2182.0,931.0 L2183.0,931.7 L2184.0,934.5 L2185.0,932.1 L2186.0,932.4 L2187.0,937.6 L2188.0,935.6 L2189.0,935.4 L2190.0,934.6 L2191.0,934.5 L2192.0,936.9 L2193.0,933.1 L2194.0,937.8 L2195.0,930.7 L2196.0,932.4 L2197.0,929.6 L2198.0,932.1 L2199.0,934.2 L2200.0,936.5 L2201.0,931.2 L2202.0,932.8 L2203.0,931.9 L2204.0,930.9 L2205.0,929.8 L2206.0,932.9 L2207.0,928.3 L2208.0,932.9 L2209.0,932.7 L2210.0,930.9 L2211.0,930.0 L2212.0,929.0 L2213.0,937.1 L2214.0,928.9 L2215.0,936.1 L2216.0,933.6 L2217.0,931.1 L2218.0,928.9 L2219.0,934.3 L2220.0,935.9 L2221.0,928.9 L2222.0,930.2 L2223.0,933.2 L2224.0,930.9 L2225.0,934.5 L2226.0,927.1 L2227.0,928.8 L2228.0,922.8 L2229.0,929.8 L2230.0,920.2 L2231.0,913.8 L2232.0,916.6 L2233.0,913.6 L2234.0,916.4 L2235.0,907.5 L2236.0,906.6 L2237.0,907.7 L2238.0,911.1 L2239.0,908.2 L2240.0,913.8 L2241.0,915.1 L2242.0,915.8 L2243.0,919.5 L2244.0,921.7 L2245.0,921.2 L2246.0,928.4 L2247.0,923.0 L2248.0,930.6 L2249.0,930.7 L2250.0,928.4 L2251.0,927.0 L2252.0,928.4 L2253.0,930.2 L2254.0,930.6 L2255.0,929.0 L2256.0,930.3 L2257.0,925.4 L2258.0,926.5 L2259.0,920.4 L2260.0,925.0 L2261.0,921.5 L2262.0,917.9 L2263.0,919.9 L2264.0,916.2 L2265.0,904.1 L2266.0,909.9 L2267.0,904.0 L2268.0,910.2 L2268.6,914.1 L2269.0,905.6 L2270.0,908.2 L2271.0,908.9 L2272.0,912.8 L2273.0,916.0 L2274.0,920.3 L2275.0,916.6 L2276.0,925.6 L2277.0,921.0 L2278.0,926.0 L2279.0,929.7 L2280.0,929.8 L2281.0,926.6 L2282.0,928.0 L2283.0,929.3 L2284.0,930.9 L2285.0,934.4 L2286.0,928.5 L2287.0,933.3 L2288.0,933.9 L2289.0,933.9 L2290.0,933.9 L2291.0,936.7 L2292.0,934.2 L2293.0,935.3 L2294.0,934.6 L2295.0,937.8 L2296.0,928.6 L2297.0,936.7 L2298.0,932.9 L2299.0,932.9 L2300.0,931.2 L2301.0,929.0 L2302.0,932.8 L2303.0,932.1 L2304.0,935.1 L2305.0,930.2 L2306.0,937.6 L2307.0,934.7 L2308.0,933.4 L2309.0,932.3 L2310.0,932.2 L2311.0,931.3 L2312.0,932.8 L2313.0,934.2 L2314.0,933.8 L2315.0,930.7 L2316.0,933.7 L2317.0,932.1 L2318.0,934.8 L2319.0,939.1 L2320.0,936.0 L2321.0,933.7 L2322.0,930.4 L2323.0,931.0 L2324.0,930.3 L2325.0,936.4 L2326.0,932.6 L2327.0,934.7 L2328.0,933.0 L2329.0,934.8 L2330.0,938.1 L2331.0,932.9 L2332.0,933.8 L2333.0,932.7 L2334.0,936.9 L2335.0,932.2 L2336.0,931.9 L2337.0,931.3 L2338.0,931.3 L2339.0,936.0 L2340.0,941.2 L2341.0,932.3 L2342.0,937.2 L2343.0,935.5 L2344.0,932.1 L2345.0,934.2 L2346.0,934.3 L2347.0,933.2 L2348.0,939.8 L2349.0,930.2 L2350.0,935.9 L2351.0,935.8 L2352.0,933.6 L2353.0,935.4 L2354.0,937.2 L2355.0,935.4 L2356.0,936.1 L2357.0,936.8 L2358.0,930.0 L2359.0,938.8 L2360.0,940.8 L2361.0,937.6 L2362.0,937.7 L2363.0,931.6 L2364.0,934.9 L2365.0,933.2 L2366.0,933.7 L2367.0,937.6 L2368.0,933.2 L2369.0,934.9 L2370.0,930.5 L2371.0,934.9 L2372.0,935.5 L2373.0,933.5 L2374.0,933.5 L2375.0,940.0 L2376.0,932.3 L2377.0,932.7 L2378.0,933.3 L2379.0,938.4 L2380.0,940.6 L2381.0,936.2 L2382.0,933.6"/>
</g>
<g fill="#000">
<path transform="translate(217.1,843.0) scale(1.000)" d="M0,7.6 C1.4,2.6 4.6,0 8,0 C11.9,0 14.6,3.2 14.6,7.6 C14.6,11 13.4,13.4 11.4,16.1 L0,31.6 L-11.4,16.1 C-13.4,13.4 -14.6,11 -14.6,7.6 C-14.6,3.2 -11.9,0 -8,0 C-4.6,0 -1.4,2.6 0,7.6Z"/><path transform="translate(245.5,821.6) scale(1.000)" d="M0,7.6 C1.4,2.6 4.6,0 8,0 C11.9,0 14.6,3.2 14.6,7.6 C14.6,11 13.4,13.4 11.4,16.1 L0,31.6 L-11.4,16.1 C-13.4,13.4 -14.6,11 -14.6,7.6 C-14.6,3.2 -11.9,0 -8,0 C-4.6,0 -1.4,2.6 0,7.6Z"/><path transform="translate(328.4,501.4) scale(1.000)" d="M0,7.6 C1.4,2.6 4.6,0 8,0 C11.9,0 14.6,3.2 14.6,7.6 C14.6,11 13.4,13.4 11.4,16.1 L0,31.6 L-11.4,16.1 C-13.4,13.4 -14.6,11 -14.6,7.6 C-14.6,3.2 -11.9,0 -8,0 C-4.6,0 -1.4,2.6 0,7.6Z"/><path transform="translate(452.2,766.2) scale(1.000)" d="M0,7.6 C1.4,2.6 4.6,0 8,0 C11.9,0 14.6,3.2 14.6,7.6 C14.6,11 13.4,13.4 11.4,16.1 L0,31.6 L-11.4,16.1 C-13.4,13.4 -14.6,11 -14.6,7.6 C-14.6,3.2 -11.9,0 -8,0 C-4.6,0 -1.4,2.6 0,7.6Z"/><path transform="translate(584.3,660.6) scale(1.000)" d="M0,7.6 C1.4,2.6 4.6,0 8,0 C11.9,0 14.6,3.2 14.6,7.6 C14.6,11 13.4,13.4 11.4,16.1 L0,31.6 L-11.4,16.1 C-13.4,13.4 -14.6,11 -14.6,7.6 C-14.6,3.2 -11.9,0 -8,0 C-4.6,0 -1.4,2.6 0,7.6Z"/><path transform="translate(670.5,846.6) scale(1.000)" d="M0,7.6 C1.4,2.6 4.6,0 8,0 C11.9,0 14.6,3.2 14.6,7.6 C14.6,11 13.4,13.4 11.4,16.1 L0,31.6 L-11.4,16.1 C-13.4,13.4 -14.6,11 -14.6,7.6 C-14.6,3.2 -11.9,0 -8,0 C-4.6,0 -1.4,2.6 0,7.6Z"/><path transform="translate(736.4,503.4) scale(1.000)" d="M0,7.6 C1.4,2.6 4.6,0 8,0 C11.9,0 14.6,3.2 14.6,7.6 C14.6,11 13.4,13.4 11.4,16.1 L0,31.6 L-11.4,16.1 C-13.4,13.4 -14.6,11 -14.6,7.6 C-14.6,3.2 -11.9,0 -8,0 C-4.6,0 -1.4,2.6 0,7.6Z"/><path transform="translate(759.2,702.5) scale(1.000)" d="M0,7.6 C1.4,2.6 4.6,0 8,0 C11.9,0 14.6,3.2 14.6,7.6 C14.6,11 13.4,13.4 11.4,16.1 L0,31.6 L-11.4,16.1 C-13.4,13.4 -14.6,11 -14.6,7.6 C-14.6,3.2 -11.9,0 -8,0 C-4.6,0 -1.4,2.6 0,7.6Z"/><path transform="translate(849.1,776.7) scale(1.000)" d="M0,7.6 C1.4,2.6 4.6,0 8,0 C11.9,0 14.6,3.2 14.6,7.6 C14.6,11 13.4,13.4 11.4,16.1 L0,31.6 L-11.4,16.1 C-13.4,13.4 -14.6,11 -14.6,7.6 C-14.6,3.2 -11.9,0 -8,0 C-4.6,0 -1.4,2.6 0,7.6Z"/><path transform="translate(928.1,644.6) scale(1.000)" d="M0,7.6 C1.4,2.6 4.6,0 8,0 C11.9,0 14.6,3.2 14.6,7.6 C14.6,11 13.4,13.4 11.4,16.1 L0,31.6 L-11.4,16.1 C-13.4,13.4 -14.6,11 -14.6,7.6 C-14.6,3.2 -11.9,0 -8,0 C-4.6,0 -1.4,2.6 0,7.6Z"/><path transform="translate(1209.0,837.7) scale(1.000)" d="M0,7.6 C1.4,2.6 4.6,0 8,0 C11.9,0 14.6,3.2 14.6,7.6 C14.6,11 13.4,13.4 11.4,16.1 L0,31.6 L-11.4,16.1 C-13.4,13.4 -14.6,11 -14.6,7.6 C-14.6,3.2 -11.9,0 -8,0 C-4.6,0 -1.4,2.6 0,7.6Z"/><path transform="translate(1302.2,853.3) scale(1.000)" d="M0,7.6 C1.4,2.6 4.6,0 8,0 C11.9,0 14.6,3.2 14.6,7.6 C14.6,11 13.4,13.4 11.4,16.1 L0,31.6 L-11.4,16.1 C-13.4,13.4 -14.6,11 -14.6,7.6 C-14.6,3.2 -11.9,0 -8,0 C-4.6,0 -1.4,2.6 0,7.6Z"/><path transform="translate(1332.4,826.9) scale(1.000)" d="M0,7.6 C1.4,2.6 4.6,0 8,0 C11.9,0 14.6,3.2 14.6,7.6 C14.6,11 13.4,13.4 11.4,16.1 L0,31.6 L-11.4,16.1 C-13.4,13.4 -14.6,11 -14.6,7.6 C-14.6,3.2 -11.9,0 -8,0 C-4.6,0 -1.4,2.6 0,7.6Z"/><path transform="translate(1463.6,864.7) scale(1.000)" d="M0,7.6 C1.4,2.6 4.6,0 8,0 C11.9,0 14.6,3.2 14.6,7.6 C14.6,11 13.4,13.4 11.4,16.1 L0,31.6 L-11.4,16.1 C-13.4,13.4 -14.6,11 -14.6,7.6 C-14.6,3.2 -11.9,0 -8,0 C-4.6,0 -1.4,2.6 0,7.6Z"/><path transform="translate(1551.4,825.1) scale(1.000)" d="M0,7.6 C1.4,2.6 4.6,0 8,0 C11.9,0 14.6,3.2 14.6,7.6 C14.6,11 13.4,13.4 11.4,16.1 L0,31.6 L-11.4,16.1 C-13.4,13.4 -14.6,11 -14.6,7.6 C-14.6,3.2 -11.9,0 -8,0 C-4.6,0 -1.4,2.6 0,7.6Z"/><path transform="translate(1702.5,830.8) scale(1.000)" d="M0,7.6 C1.4,2.6 4.6,0 8,0 C11.9,0 14.6,3.2 14.6,7.6 C14.6,11 13.4,13.4 11.4,16.1 L0,31.6 L-11.4,16.1 C-13.4,13.4 -14.6,11 -14.6,7.6 C-14.6,3.2 -11.9,0 -8,0 C-4.6,0 -1.4,2.6 0,7.6Z"/><path transform="translate(1870.6,864.7) scale(1.000)" d="M0,7.6 C1.4,2.6 4.6,0 8,0 C11.9,0 14.6,3.2 14.6,7.6 C14.6,11 13.4,13.4 11.4,16.1 L0,31.6 L-11.4,16.1 C-13.4,13.4 -14.6,11 -14.6,7.6 C-14.6,3.2 -11.9,0 -8,0 C-4.6,0 -1.4,2.6 0,7.6Z"/><path transform="translate(1958.9,861.7) scale(1.000)" d="M0,7.6 C1.4,2.6 4.6,0 8,0 C11.9,0 14.6,3.2 14.6,7.6 C14.6,11 13.4,13.4 11.4,16.1 L0,31.6 L-11.4,16.1 C-13.4,13.4 -14.6,11 -14.6,7.6 C-14.6,3.2 -11.9,0 -8,0 C-4.6,0 -1.4,2.6 0,7.6Z"/><path transform="translate(2106.4,881.1) scale(1.000)" d="M0,7.6 C1.4,2.6 4.6,0 8,0 C11.9,0 14.6,3.2 14.6,7.6 C14.6,11 13.4,13.4 11.4,16.1 L0,31.6 L-11.4,16.1 C-13.4,13.4 -14.6,11 -14.6,7.6 C-14.6,3.2 -11.9,0 -8,0 C-4.6,0 -1.4,2.6 0,7.6Z"/><path transform="translate(2236.3,853.7) scale(1.000)" d="M0,7.6 C1.4,2.6 4.6,0 8,0 C11.9,0 14.6,3.2 14.6,7.6 C14.6,11 13.4,13.4 11.4,16.1 L0,31.6 L-11.4,16.1 C-13.4,13.4 -14.6,11 -14.6,7.6 C-14.6,3.2 -11.9,0 -8,0 C-4.6,0 -1.4,2.6 0,7.6Z"/><path transform="translate(2275.5,868.0) scale(1.000)" d="M0,7.6 C1.4,2.6 4.6,0 8,0 C11.9,0 14.6,3.2 14.6,7.6 C14.6,11 13.4,13.4 11.4,16.1 L0,31.6 L-11.4,16.1 C-13.4,13.4 -14.6,11 -14.6,7.6 C-14.6,3.2 -11.9,0 -8,0 C-4.6,0 -1.4,2.6 0,7.6Z"/><circle cx="246.2" cy="786.8" r="14.90"/><circle cx="453.4" cy="734.0" r="14.90"/><circle cx="709.9" cy="814.8" r="14.90"/><circle cx="895.7" cy="872.7" r="14.90"/><circle cx="1442.3" cy="851.0" r="14.90"/><path transform="translate(717.0,954.3) scale(1.000)" d="M0,0 L14.3,18.3 C16.7,21.2 17.85,23.8 17.85,27.0 C17.85,31.9 14.9,35.2 11.3,35.2 C8.2,35.2 6.3,33.0 5.0,29.2 C3.9,29.2 2.4,30.2 1.9,31.8 C2.3,35.4 3.3,37.9 4.2,39.5 L-4.2,39.5 C-3.3,37.9 -2.3,35.4 -1.9,31.8 C-2.4,30.2 -3.9,29.2 -5.0,29.2 C-6.3,33.0 -8.2,35.2 -11.3,35.2 C-14.9,35.2 -17.85,31.9 -17.85,27.0 C-17.85,23.8 -16.7,21.2 -14.3,18.3 Z"/><path transform="translate(1200.8,1399.5) scale(1.000)" d="M0,0 L14.3,18.3 C16.7,21.2 17.85,23.8 17.85,27.0 C17.85,31.9 14.9,35.2 11.3,35.2 C8.2,35.2 6.3,33.0 5.0,29.2 C3.9,29.2 2.4,30.2 1.9,31.8 C2.3,35.4 3.3,37.9 4.2,39.5 L-4.2,39.5 C-3.3,37.9 -2.3,35.4 -1.9,31.8 C-2.4,30.2 -3.9,29.2 -5.0,29.2 C-6.3,33.0 -8.2,35.2 -11.3,35.2 C-14.9,35.2 -17.85,31.9 -17.85,27.0 C-17.85,23.8 -16.7,21.2 -14.3,18.3 Z"/><path transform="translate(1604.6,1372.0) scale(1.000)" d="M0,0 L14.3,18.3 C16.7,21.2 17.85,23.8 17.85,27.0 C17.85,31.9 14.9,35.2 11.3,35.2 C8.2,35.2 6.3,33.0 5.0,29.2 C3.9,29.2 2.4,30.2 1.9,31.8 C2.3,35.4 3.3,37.9 4.2,39.5 L-4.2,39.5 C-3.3,37.9 -2.3,35.4 -1.9,31.8 C-2.4,30.2 -3.9,29.2 -5.0,29.2 C-6.3,33.0 -8.2,35.2 -11.3,35.2 C-14.9,35.2 -17.85,31.9 -17.85,27.0 C-17.85,23.8 -16.7,21.2 -14.3,18.3 Z"/><path transform="translate(1976.9,1447.0) scale(1.000)" d="M0,0 L14.3,18.3 C16.7,21.2 17.85,23.8 17.85,27.0 C17.85,31.9 14.9,35.2 11.3,35.2 C8.2,35.2 6.3,33.0 5.0,29.2 C3.9,29.2 2.4,30.2 1.9,31.8 C2.3,35.4 3.3,37.9 4.2,39.5 L-4.2,39.5 C-3.3,37.9 -2.3,35.4 -1.9,31.8 C-2.4,30.2 -3.9,29.2 -5.0,29.2 C-6.3,33.0 -8.2,35.2 -11.3,35.2 C-14.9,35.2 -17.85,31.9 -17.85,27.0 C-17.85,23.8 -16.7,21.2 -14.3,18.3 Z"/><path d="M671.5,784.0 L688.8,806.1 L671.5,828.2 L654.2,806.1Z"/><path d="M669.0,1436.7 L688.1,1461.2 L669.0,1485.8 L649.9,1461.2Z"/>
</g>
<rect x="172.15" y="23.9" width="2210.55" height="1624.7" fill="none" stroke="#000" stroke-width="5.8"/>
<g stroke="#000" stroke-width="5.8">
<line x1="448.27" y1="1616.5" x2="448.27" y2="1648.6"/><line x1="724.65" y1="1616.5" x2="724.65" y2="1648.6"/><line x1="1001.02" y1="1616.5" x2="1001.02" y2="1648.6"/><line x1="1277.40" y1="1616.5" x2="1277.40" y2="1648.6"/><line x1="1553.78" y1="1616.5" x2="1553.78" y2="1648.6"/><line x1="1830.15" y1="1616.5" x2="1830.15" y2="1648.6"/><line x1="2106.53" y1="1616.5" x2="2106.53" y2="1648.6"/>
</g>
<g font-size="87" text-anchor="middle">
<text x="171.90" y="1748.3">20</text><text x="448.27" y="1748.3">30</text><text x="724.65" y="1748.3">40</text><text x="1001.02" y="1748.3">50</text><text x="1277.40" y="1748.3">60</text><text x="1553.78" y="1748.3">70</text><text x="1830.15" y="1748.3">80</text><text x="2106.53" y="1748.3">90</text><text x="2382.90" y="1748.3">100</text>
</g>
<text transform="translate(1016.0,1857.0) scale(0.966,1)" font-size="96.5">2θ/(degree)</text>
<text transform="translate(89.7,837.2) rotate(-90)" font-size="92" text-anchor="middle">Intensity/(a.u.)</text>
<g fill="#000">
<path transform="translate(252.3,59.8) scale(1.233)" d="M0,7.6 C1.4,2.6 4.6,0 8,0 C11.9,0 14.6,3.2 14.6,7.6 C14.6,11 13.4,13.4 11.4,16.1 L0,31.6 L-11.4,16.1 C-13.4,13.4 -14.6,11 -14.6,7.6 C-14.6,3.2 -11.9,0 -8,0 C-4.6,0 -1.4,2.6 0,7.6Z"/><path d="M252.5,170.2 L268.2,189.7 L252.5,209.2 L236.8,189.7Z"/><circle cx="250.4" cy="301.4" r="12.30"/><path transform="translate(252.5,389.0) scale(1.025)" d="M0,0 L14.3,18.3 C16.7,21.2 17.85,23.8 17.85,27.0 C17.85,31.9 14.9,35.2 11.3,35.2 C8.2,35.2 6.3,33.0 5.0,29.2 C3.9,29.2 2.4,30.2 1.9,31.8 C2.3,35.4 3.3,37.9 4.2,39.5 L-4.2,39.5 C-3.3,37.9 -2.3,35.4 -1.9,31.8 C-2.4,30.2 -3.9,29.2 -5.0,29.2 C-6.3,33.0 -8.2,35.2 -11.3,35.2 C-14.9,35.2 -17.85,31.9 -17.85,27.0 C-17.85,23.8 -16.7,21.2 -14.3,18.3 Z"/>
</g>
<g font-size="71" font-weight="normal">
<text x="278.2" y="96.7">—</text>
<text x="278.9" y="209.1">—</text>
<text x="266.9" y="320.1">—</text>
<text x="278.9" y="427.7">—</text>
</g>
<g font-size="69.3" font-weight="bold">
<text x="364.4" y="97.1">(WMoNbTaCr)Si<tspan dy="15.5">2</tspan></text>
<text x="366.5" y="208.4">Ta<tspan dx="2" dy="16.5">2</tspan><tspan dx="3" dy="-16.5">O</tspan></text>
<text x="386.4" y="320.8">WSi<tspan dy="13">2</tspan></text>
<text x="365.3" y="427.2">BCC phase</text>
</g>
<g stroke-width="5.7" stroke-linecap="round">
<line x1="1325.7" y1="103.7" x2="1459.4" y2="103.7" stroke="#ff4040"/>
<line x1="1325.7" y1="229.4" x2="1459.4" y2="229.4" stroke="#505050"/>
</g>
<g font-size="76.1" font-weight="bold">
<text x="1491.7" y="127.4">Siliconizing coating</text>
<text x="1493.9" y="253.1">high-entropy alloy coating</text>
</g>
</svg>
</body></html>
